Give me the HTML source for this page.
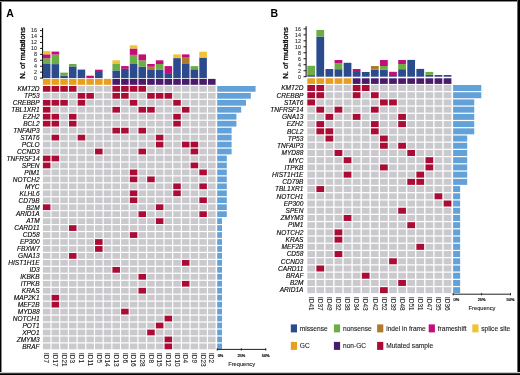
<!DOCTYPE html>
<html><head><meta charset="utf-8"><style>
html,body{margin:0;padding:0;background:#fff;}
body{width:520px;height:375px;overflow:hidden;position:relative;}
svg{position:absolute;left:0;top:0;font-family:"Liberation Sans",sans-serif;will-change:transform;}
.frame{position:absolute;left:0;top:0;width:517px;height:372px;border-style:solid;border-color:#000;border-width:2px 2px 2px 1px;}
</style></head><body>
<svg width="520" height="375" viewBox="0 0 520 375">
<text x="6.30" y="16.90" font-size="10.5" text-anchor="start" font-weight="bold" fill="#000">A</text>
<text x="25.00" y="78.80" font-size="7.7" text-anchor="start" transform="rotate(-90 25.00 78.80)" fill="#000" stroke="#000" stroke-width="0.3">N. of mutations</text>
<line x1="42.60" y1="27.98" x2="42.60" y2="78.50" stroke="#000" stroke-width="1"/>
<line x1="40.00" y1="78.10" x2="42.60" y2="78.10" stroke="#000" stroke-width="0.9"/>
<text x="37.00" y="80.00" font-size="5.3" text-anchor="end" fill="#222" stroke="#222" stroke-width="0.08">0</text>
<line x1="40.00" y1="72.16" x2="42.60" y2="72.16" stroke="#000" stroke-width="0.9"/>
<text x="37.00" y="74.06" font-size="5.3" text-anchor="end" fill="#222" stroke="#222" stroke-width="0.08">2</text>
<line x1="40.00" y1="66.22" x2="42.60" y2="66.22" stroke="#000" stroke-width="0.9"/>
<text x="37.00" y="68.12" font-size="5.3" text-anchor="end" fill="#222" stroke="#222" stroke-width="0.08">4</text>
<line x1="40.00" y1="60.28" x2="42.60" y2="60.28" stroke="#000" stroke-width="0.9"/>
<text x="37.00" y="62.18" font-size="5.3" text-anchor="end" fill="#222" stroke="#222" stroke-width="0.08">6</text>
<line x1="40.00" y1="54.34" x2="42.60" y2="54.34" stroke="#000" stroke-width="0.9"/>
<text x="37.00" y="56.24" font-size="5.3" text-anchor="end" fill="#222" stroke="#222" stroke-width="0.08">8</text>
<line x1="40.00" y1="48.40" x2="42.60" y2="48.40" stroke="#000" stroke-width="0.9"/>
<text x="37.00" y="50.30" font-size="5.3" text-anchor="end" fill="#222" stroke="#222" stroke-width="0.08">10</text>
<line x1="40.00" y1="42.46" x2="42.60" y2="42.46" stroke="#000" stroke-width="0.9"/>
<text x="37.00" y="44.36" font-size="5.3" text-anchor="end" fill="#222" stroke="#222" stroke-width="0.08">12</text>
<line x1="40.00" y1="36.52" x2="42.60" y2="36.52" stroke="#000" stroke-width="0.9"/>
<text x="37.00" y="38.42" font-size="5.3" text-anchor="end" fill="#222" stroke="#222" stroke-width="0.08">14</text>
<line x1="40.00" y1="30.58" x2="42.60" y2="30.58" stroke="#000" stroke-width="0.9"/>
<text x="37.00" y="32.48" font-size="5.3" text-anchor="end" fill="#222" stroke="#222" stroke-width="0.08">16</text>
<rect x="42.90" y="64.00" width="7.55" height="14.10" fill="#2b4b8d"/>
<rect x="42.90" y="58.30" width="7.55" height="5.70" fill="#6cad46"/>
<rect x="42.90" y="54.30" width="7.55" height="4.00" fill="#c20e78"/>
<rect x="42.90" y="51.10" width="7.55" height="3.20" fill="#f1c232"/>
<rect x="51.59" y="64.10" width="7.55" height="14.00" fill="#2b4b8d"/>
<rect x="51.59" y="54.50" width="7.55" height="9.60" fill="#6cad46"/>
<rect x="51.59" y="51.60" width="7.55" height="2.90" fill="#c20e78"/>
<rect x="60.28" y="75.60" width="7.55" height="2.50" fill="#2b4b8d"/>
<rect x="60.28" y="72.60" width="7.55" height="3.00" fill="#6cad46"/>
<rect x="68.97" y="66.40" width="7.55" height="11.70" fill="#2b4b8d"/>
<rect x="68.97" y="64.00" width="7.55" height="2.40" fill="#6cad46"/>
<rect x="77.66" y="69.60" width="7.55" height="8.50" fill="#2b4b8d"/>
<rect x="86.35" y="75.70" width="7.55" height="2.40" fill="#c20e78"/>
<rect x="95.04" y="72.00" width="7.55" height="6.10" fill="#2b4b8d"/>
<rect x="95.04" y="69.70" width="7.55" height="2.30" fill="#c20e78"/>
<rect x="112.42" y="70.40" width="7.55" height="7.70" fill="#2b4b8d"/>
<rect x="112.42" y="64.00" width="7.55" height="6.40" fill="#6cad46"/>
<rect x="112.42" y="60.30" width="7.55" height="3.70" fill="#f1c232"/>
<rect x="121.11" y="68.80" width="7.55" height="9.30" fill="#2b4b8d"/>
<rect x="121.11" y="66.10" width="7.55" height="2.70" fill="#c20e78"/>
<rect x="129.80" y="64.00" width="7.55" height="14.10" fill="#2b4b8d"/>
<rect x="129.80" y="54.90" width="7.55" height="9.10" fill="#6cad46"/>
<rect x="129.80" y="48.50" width="7.55" height="6.40" fill="#c20e78"/>
<rect x="129.80" y="45.30" width="7.55" height="3.20" fill="#f1c232"/>
<rect x="138.49" y="66.70" width="7.55" height="11.40" fill="#2b4b8d"/>
<rect x="138.49" y="60.30" width="7.55" height="6.40" fill="#6cad46"/>
<rect x="138.49" y="54.40" width="7.55" height="5.90" fill="#c20e78"/>
<rect x="147.18" y="69.30" width="7.55" height="8.80" fill="#2b4b8d"/>
<rect x="147.18" y="66.70" width="7.55" height="2.60" fill="#b07a2e"/>
<rect x="147.18" y="64.00" width="7.55" height="2.70" fill="#c20e78"/>
<rect x="155.87" y="69.90" width="7.55" height="8.20" fill="#2b4b8d"/>
<rect x="155.87" y="64.00" width="7.55" height="5.90" fill="#6cad46"/>
<rect x="155.87" y="60.30" width="7.55" height="3.70" fill="#c20e78"/>
<rect x="164.56" y="73.10" width="7.55" height="5.00" fill="#2b4b8d"/>
<rect x="164.56" y="66.10" width="7.55" height="7.00" fill="#c20e78"/>
<rect x="173.25" y="58.10" width="7.55" height="20.00" fill="#2b4b8d"/>
<rect x="173.25" y="54.40" width="7.55" height="3.70" fill="#f1c232"/>
<rect x="181.94" y="64.00" width="7.55" height="14.10" fill="#2b4b8d"/>
<rect x="181.94" y="57.60" width="7.55" height="6.40" fill="#b07a2e"/>
<rect x="181.94" y="54.40" width="7.55" height="3.20" fill="#c20e78"/>
<rect x="190.63" y="69.30" width="7.55" height="8.80" fill="#2b4b8d"/>
<rect x="190.63" y="66.10" width="7.55" height="3.20" fill="#6cad46"/>
<rect x="199.32" y="57.60" width="7.55" height="20.50" fill="#2b4b8d"/>
<rect x="199.32" y="51.70" width="7.55" height="5.90" fill="#f1c232"/>
<rect x="42.90" y="78.90" width="7.55" height="5.90" fill="#e89f1f"/>
<rect x="51.59" y="78.90" width="7.55" height="5.90" fill="#e89f1f"/>
<rect x="60.28" y="78.90" width="7.55" height="5.90" fill="#e89f1f"/>
<rect x="68.97" y="78.90" width="7.55" height="5.90" fill="#e89f1f"/>
<rect x="77.66" y="78.90" width="7.55" height="5.90" fill="#e89f1f"/>
<rect x="86.35" y="78.90" width="7.55" height="5.90" fill="#e89f1f"/>
<rect x="95.04" y="78.90" width="7.55" height="5.90" fill="#e89f1f"/>
<rect x="103.73" y="78.90" width="7.55" height="5.90" fill="#e89f1f"/>
<rect x="112.42" y="78.90" width="7.55" height="5.90" fill="#4a1b6b"/>
<rect x="121.11" y="78.90" width="7.55" height="5.90" fill="#4a1b6b"/>
<rect x="129.80" y="78.90" width="7.55" height="5.90" fill="#4a1b6b"/>
<rect x="138.49" y="78.90" width="7.55" height="5.90" fill="#4a1b6b"/>
<rect x="147.18" y="78.90" width="7.55" height="5.90" fill="#4a1b6b"/>
<rect x="155.87" y="78.90" width="7.55" height="5.90" fill="#4a1b6b"/>
<rect x="164.56" y="78.90" width="7.55" height="5.90" fill="#4a1b6b"/>
<rect x="173.25" y="78.90" width="7.55" height="5.90" fill="#4a1b6b"/>
<rect x="181.94" y="78.90" width="7.55" height="5.90" fill="#4a1b6b"/>
<rect x="190.63" y="78.90" width="7.55" height="5.90" fill="#4a1b6b"/>
<rect x="199.32" y="78.90" width="7.55" height="5.90" fill="#4a1b6b"/>
<rect x="208.01" y="78.90" width="7.55" height="5.90" fill="#4a1b6b"/>
<rect x="42.90" y="86.00" width="7.55" height="5.75" fill="#aa0c36"/>
<rect x="51.59" y="86.00" width="7.55" height="5.75" fill="#aa0c36"/>
<rect x="60.28" y="86.00" width="7.55" height="5.75" fill="#aa0c36"/>
<rect x="68.97" y="86.00" width="7.55" height="5.75" fill="#aa0c36"/>
<rect x="77.66" y="86.00" width="7.55" height="5.75" fill="#cacace"/>
<rect x="86.35" y="86.00" width="7.55" height="5.75" fill="#cacace"/>
<rect x="95.04" y="86.00" width="7.55" height="5.75" fill="#cacace"/>
<rect x="103.73" y="86.00" width="7.55" height="5.75" fill="#cacace"/>
<rect x="112.42" y="86.00" width="7.55" height="5.75" fill="#aa0c36"/>
<rect x="121.11" y="86.00" width="7.55" height="5.75" fill="#aa0c36"/>
<rect x="129.80" y="86.00" width="7.55" height="5.75" fill="#aa0c36"/>
<rect x="138.49" y="86.00" width="7.55" height="5.75" fill="#aa0c36"/>
<rect x="147.18" y="86.00" width="7.55" height="5.75" fill="#cacace"/>
<rect x="155.87" y="86.00" width="7.55" height="5.75" fill="#cacace"/>
<rect x="164.56" y="86.00" width="7.55" height="5.75" fill="#cacace"/>
<rect x="173.25" y="86.00" width="7.55" height="5.75" fill="#cacace"/>
<rect x="181.94" y="86.00" width="7.55" height="5.75" fill="#cacace"/>
<rect x="190.63" y="86.00" width="7.55" height="5.75" fill="#cacace"/>
<rect x="199.32" y="86.00" width="7.55" height="5.75" fill="#cacace"/>
<rect x="208.01" y="86.00" width="7.55" height="5.75" fill="#cacace"/>
<text x="39.60" y="91.17" font-size="6.55" text-anchor="end" font-style="italic" fill="#000" stroke="#000" stroke-width="0.12">KMT2D</text>
<rect x="217.20" y="86.00" width="38.40" height="5.75" fill="#63a1d9"/>
<rect x="42.90" y="92.96" width="7.55" height="5.75" fill="#cacace"/>
<rect x="51.59" y="92.96" width="7.55" height="5.75" fill="#cacace"/>
<rect x="60.28" y="92.96" width="7.55" height="5.75" fill="#cacace"/>
<rect x="68.97" y="92.96" width="7.55" height="5.75" fill="#cacace"/>
<rect x="77.66" y="92.96" width="7.55" height="5.75" fill="#aa0c36"/>
<rect x="86.35" y="92.96" width="7.55" height="5.75" fill="#aa0c36"/>
<rect x="95.04" y="92.96" width="7.55" height="5.75" fill="#cacace"/>
<rect x="103.73" y="92.96" width="7.55" height="5.75" fill="#cacace"/>
<rect x="112.42" y="92.96" width="7.55" height="5.75" fill="#aa0c36"/>
<rect x="121.11" y="92.96" width="7.55" height="5.75" fill="#aa0c36"/>
<rect x="129.80" y="92.96" width="7.55" height="5.75" fill="#cacace"/>
<rect x="138.49" y="92.96" width="7.55" height="5.75" fill="#cacace"/>
<rect x="147.18" y="92.96" width="7.55" height="5.75" fill="#aa0c36"/>
<rect x="155.87" y="92.96" width="7.55" height="5.75" fill="#aa0c36"/>
<rect x="164.56" y="92.96" width="7.55" height="5.75" fill="#aa0c36"/>
<rect x="173.25" y="92.96" width="7.55" height="5.75" fill="#cacace"/>
<rect x="181.94" y="92.96" width="7.55" height="5.75" fill="#cacace"/>
<rect x="190.63" y="92.96" width="7.55" height="5.75" fill="#cacace"/>
<rect x="199.32" y="92.96" width="7.55" height="5.75" fill="#cacace"/>
<rect x="208.01" y="92.96" width="7.55" height="5.75" fill="#cacace"/>
<text x="39.60" y="98.13" font-size="6.55" text-anchor="end" font-style="italic" fill="#000" stroke="#000" stroke-width="0.12">TP53</text>
<rect x="217.20" y="92.96" width="33.60" height="5.75" fill="#63a1d9"/>
<rect x="42.90" y="99.92" width="7.55" height="5.75" fill="#aa0c36"/>
<rect x="51.59" y="99.92" width="7.55" height="5.75" fill="#aa0c36"/>
<rect x="60.28" y="99.92" width="7.55" height="5.75" fill="#aa0c36"/>
<rect x="68.97" y="99.92" width="7.55" height="5.75" fill="#cacace"/>
<rect x="77.66" y="99.92" width="7.55" height="5.75" fill="#aa0c36"/>
<rect x="86.35" y="99.92" width="7.55" height="5.75" fill="#cacace"/>
<rect x="95.04" y="99.92" width="7.55" height="5.75" fill="#cacace"/>
<rect x="103.73" y="99.92" width="7.55" height="5.75" fill="#cacace"/>
<rect x="112.42" y="99.92" width="7.55" height="5.75" fill="#cacace"/>
<rect x="121.11" y="99.92" width="7.55" height="5.75" fill="#cacace"/>
<rect x="129.80" y="99.92" width="7.55" height="5.75" fill="#aa0c36"/>
<rect x="138.49" y="99.92" width="7.55" height="5.75" fill="#cacace"/>
<rect x="147.18" y="99.92" width="7.55" height="5.75" fill="#cacace"/>
<rect x="155.87" y="99.92" width="7.55" height="5.75" fill="#cacace"/>
<rect x="164.56" y="99.92" width="7.55" height="5.75" fill="#cacace"/>
<rect x="173.25" y="99.92" width="7.55" height="5.75" fill="#aa0c36"/>
<rect x="181.94" y="99.92" width="7.55" height="5.75" fill="#cacace"/>
<rect x="190.63" y="99.92" width="7.55" height="5.75" fill="#cacace"/>
<rect x="199.32" y="99.92" width="7.55" height="5.75" fill="#cacace"/>
<rect x="208.01" y="99.92" width="7.55" height="5.75" fill="#cacace"/>
<text x="39.60" y="105.09" font-size="6.55" text-anchor="end" font-style="italic" fill="#000" stroke="#000" stroke-width="0.12">CREBBP</text>
<rect x="217.20" y="99.92" width="28.80" height="5.75" fill="#63a1d9"/>
<rect x="42.90" y="106.88" width="7.55" height="5.75" fill="#aa0c36"/>
<rect x="51.59" y="106.88" width="7.55" height="5.75" fill="#cacace"/>
<rect x="60.28" y="106.88" width="7.55" height="5.75" fill="#cacace"/>
<rect x="68.97" y="106.88" width="7.55" height="5.75" fill="#cacace"/>
<rect x="77.66" y="106.88" width="7.55" height="5.75" fill="#cacace"/>
<rect x="86.35" y="106.88" width="7.55" height="5.75" fill="#cacace"/>
<rect x="95.04" y="106.88" width="7.55" height="5.75" fill="#cacace"/>
<rect x="103.73" y="106.88" width="7.55" height="5.75" fill="#cacace"/>
<rect x="112.42" y="106.88" width="7.55" height="5.75" fill="#aa0c36"/>
<rect x="121.11" y="106.88" width="7.55" height="5.75" fill="#cacace"/>
<rect x="129.80" y="106.88" width="7.55" height="5.75" fill="#cacace"/>
<rect x="138.49" y="106.88" width="7.55" height="5.75" fill="#aa0c36"/>
<rect x="147.18" y="106.88" width="7.55" height="5.75" fill="#aa0c36"/>
<rect x="155.87" y="106.88" width="7.55" height="5.75" fill="#cacace"/>
<rect x="164.56" y="106.88" width="7.55" height="5.75" fill="#cacace"/>
<rect x="173.25" y="106.88" width="7.55" height="5.75" fill="#cacace"/>
<rect x="181.94" y="106.88" width="7.55" height="5.75" fill="#aa0c36"/>
<rect x="190.63" y="106.88" width="7.55" height="5.75" fill="#cacace"/>
<rect x="199.32" y="106.88" width="7.55" height="5.75" fill="#cacace"/>
<rect x="208.01" y="106.88" width="7.55" height="5.75" fill="#cacace"/>
<text x="39.60" y="112.05" font-size="6.55" text-anchor="end" font-style="italic" fill="#000" stroke="#000" stroke-width="0.12">TBL1XR1</text>
<rect x="217.20" y="106.88" width="24.00" height="5.75" fill="#63a1d9"/>
<rect x="42.90" y="113.84" width="7.55" height="5.75" fill="#aa0c36"/>
<rect x="51.59" y="113.84" width="7.55" height="5.75" fill="#aa0c36"/>
<rect x="60.28" y="113.84" width="7.55" height="5.75" fill="#cacace"/>
<rect x="68.97" y="113.84" width="7.55" height="5.75" fill="#aa0c36"/>
<rect x="77.66" y="113.84" width="7.55" height="5.75" fill="#cacace"/>
<rect x="86.35" y="113.84" width="7.55" height="5.75" fill="#cacace"/>
<rect x="95.04" y="113.84" width="7.55" height="5.75" fill="#cacace"/>
<rect x="103.73" y="113.84" width="7.55" height="5.75" fill="#cacace"/>
<rect x="112.42" y="113.84" width="7.55" height="5.75" fill="#cacace"/>
<rect x="121.11" y="113.84" width="7.55" height="5.75" fill="#cacace"/>
<rect x="129.80" y="113.84" width="7.55" height="5.75" fill="#cacace"/>
<rect x="138.49" y="113.84" width="7.55" height="5.75" fill="#cacace"/>
<rect x="147.18" y="113.84" width="7.55" height="5.75" fill="#cacace"/>
<rect x="155.87" y="113.84" width="7.55" height="5.75" fill="#cacace"/>
<rect x="164.56" y="113.84" width="7.55" height="5.75" fill="#cacace"/>
<rect x="173.25" y="113.84" width="7.55" height="5.75" fill="#aa0c36"/>
<rect x="181.94" y="113.84" width="7.55" height="5.75" fill="#cacace"/>
<rect x="190.63" y="113.84" width="7.55" height="5.75" fill="#cacace"/>
<rect x="199.32" y="113.84" width="7.55" height="5.75" fill="#cacace"/>
<rect x="208.01" y="113.84" width="7.55" height="5.75" fill="#cacace"/>
<text x="39.60" y="119.02" font-size="6.55" text-anchor="end" font-style="italic" fill="#000" stroke="#000" stroke-width="0.12">EZH2</text>
<rect x="217.20" y="113.84" width="19.20" height="5.75" fill="#63a1d9"/>
<rect x="42.90" y="120.80" width="7.55" height="5.75" fill="#aa0c36"/>
<rect x="51.59" y="120.80" width="7.55" height="5.75" fill="#aa0c36"/>
<rect x="60.28" y="120.80" width="7.55" height="5.75" fill="#cacace"/>
<rect x="68.97" y="120.80" width="7.55" height="5.75" fill="#aa0c36"/>
<rect x="77.66" y="120.80" width="7.55" height="5.75" fill="#cacace"/>
<rect x="86.35" y="120.80" width="7.55" height="5.75" fill="#cacace"/>
<rect x="95.04" y="120.80" width="7.55" height="5.75" fill="#cacace"/>
<rect x="103.73" y="120.80" width="7.55" height="5.75" fill="#cacace"/>
<rect x="112.42" y="120.80" width="7.55" height="5.75" fill="#cacace"/>
<rect x="121.11" y="120.80" width="7.55" height="5.75" fill="#cacace"/>
<rect x="129.80" y="120.80" width="7.55" height="5.75" fill="#cacace"/>
<rect x="138.49" y="120.80" width="7.55" height="5.75" fill="#cacace"/>
<rect x="147.18" y="120.80" width="7.55" height="5.75" fill="#cacace"/>
<rect x="155.87" y="120.80" width="7.55" height="5.75" fill="#cacace"/>
<rect x="164.56" y="120.80" width="7.55" height="5.75" fill="#cacace"/>
<rect x="173.25" y="120.80" width="7.55" height="5.75" fill="#aa0c36"/>
<rect x="181.94" y="120.80" width="7.55" height="5.75" fill="#cacace"/>
<rect x="190.63" y="120.80" width="7.55" height="5.75" fill="#cacace"/>
<rect x="199.32" y="120.80" width="7.55" height="5.75" fill="#cacace"/>
<rect x="208.01" y="120.80" width="7.55" height="5.75" fill="#cacace"/>
<text x="39.60" y="125.97" font-size="6.55" text-anchor="end" font-style="italic" fill="#000" stroke="#000" stroke-width="0.12">BCL2</text>
<rect x="217.20" y="120.80" width="19.20" height="5.75" fill="#63a1d9"/>
<rect x="42.90" y="127.76" width="7.55" height="5.75" fill="#cacace"/>
<rect x="51.59" y="127.76" width="7.55" height="5.75" fill="#cacace"/>
<rect x="60.28" y="127.76" width="7.55" height="5.75" fill="#cacace"/>
<rect x="68.97" y="127.76" width="7.55" height="5.75" fill="#cacace"/>
<rect x="77.66" y="127.76" width="7.55" height="5.75" fill="#cacace"/>
<rect x="86.35" y="127.76" width="7.55" height="5.75" fill="#cacace"/>
<rect x="95.04" y="127.76" width="7.55" height="5.75" fill="#cacace"/>
<rect x="103.73" y="127.76" width="7.55" height="5.75" fill="#cacace"/>
<rect x="112.42" y="127.76" width="7.55" height="5.75" fill="#aa0c36"/>
<rect x="121.11" y="127.76" width="7.55" height="5.75" fill="#aa0c36"/>
<rect x="129.80" y="127.76" width="7.55" height="5.75" fill="#cacace"/>
<rect x="138.49" y="127.76" width="7.55" height="5.75" fill="#aa0c36"/>
<rect x="147.18" y="127.76" width="7.55" height="5.75" fill="#cacace"/>
<rect x="155.87" y="127.76" width="7.55" height="5.75" fill="#cacace"/>
<rect x="164.56" y="127.76" width="7.55" height="5.75" fill="#cacace"/>
<rect x="173.25" y="127.76" width="7.55" height="5.75" fill="#cacace"/>
<rect x="181.94" y="127.76" width="7.55" height="5.75" fill="#cacace"/>
<rect x="190.63" y="127.76" width="7.55" height="5.75" fill="#cacace"/>
<rect x="199.32" y="127.76" width="7.55" height="5.75" fill="#cacace"/>
<rect x="208.01" y="127.76" width="7.55" height="5.75" fill="#cacace"/>
<text x="39.60" y="132.94" font-size="6.55" text-anchor="end" font-style="italic" fill="#000" stroke="#000" stroke-width="0.12">TNFAIP3</text>
<rect x="217.20" y="127.76" width="14.40" height="5.75" fill="#63a1d9"/>
<rect x="42.90" y="134.72" width="7.55" height="5.75" fill="#cacace"/>
<rect x="51.59" y="134.72" width="7.55" height="5.75" fill="#aa0c36"/>
<rect x="60.28" y="134.72" width="7.55" height="5.75" fill="#cacace"/>
<rect x="68.97" y="134.72" width="7.55" height="5.75" fill="#cacace"/>
<rect x="77.66" y="134.72" width="7.55" height="5.75" fill="#aa0c36"/>
<rect x="86.35" y="134.72" width="7.55" height="5.75" fill="#cacace"/>
<rect x="95.04" y="134.72" width="7.55" height="5.75" fill="#cacace"/>
<rect x="103.73" y="134.72" width="7.55" height="5.75" fill="#cacace"/>
<rect x="112.42" y="134.72" width="7.55" height="5.75" fill="#cacace"/>
<rect x="121.11" y="134.72" width="7.55" height="5.75" fill="#cacace"/>
<rect x="129.80" y="134.72" width="7.55" height="5.75" fill="#cacace"/>
<rect x="138.49" y="134.72" width="7.55" height="5.75" fill="#cacace"/>
<rect x="147.18" y="134.72" width="7.55" height="5.75" fill="#cacace"/>
<rect x="155.87" y="134.72" width="7.55" height="5.75" fill="#aa0c36"/>
<rect x="164.56" y="134.72" width="7.55" height="5.75" fill="#cacace"/>
<rect x="173.25" y="134.72" width="7.55" height="5.75" fill="#cacace"/>
<rect x="181.94" y="134.72" width="7.55" height="5.75" fill="#cacace"/>
<rect x="190.63" y="134.72" width="7.55" height="5.75" fill="#cacace"/>
<rect x="199.32" y="134.72" width="7.55" height="5.75" fill="#cacace"/>
<rect x="208.01" y="134.72" width="7.55" height="5.75" fill="#cacace"/>
<text x="39.60" y="139.90" font-size="6.55" text-anchor="end" font-style="italic" fill="#000" stroke="#000" stroke-width="0.12">STAT6</text>
<rect x="217.20" y="134.72" width="14.40" height="5.75" fill="#63a1d9"/>
<rect x="42.90" y="141.68" width="7.55" height="5.75" fill="#cacace"/>
<rect x="51.59" y="141.68" width="7.55" height="5.75" fill="#cacace"/>
<rect x="60.28" y="141.68" width="7.55" height="5.75" fill="#cacace"/>
<rect x="68.97" y="141.68" width="7.55" height="5.75" fill="#cacace"/>
<rect x="77.66" y="141.68" width="7.55" height="5.75" fill="#cacace"/>
<rect x="86.35" y="141.68" width="7.55" height="5.75" fill="#cacace"/>
<rect x="95.04" y="141.68" width="7.55" height="5.75" fill="#cacace"/>
<rect x="103.73" y="141.68" width="7.55" height="5.75" fill="#cacace"/>
<rect x="112.42" y="141.68" width="7.55" height="5.75" fill="#cacace"/>
<rect x="121.11" y="141.68" width="7.55" height="5.75" fill="#cacace"/>
<rect x="129.80" y="141.68" width="7.55" height="5.75" fill="#cacace"/>
<rect x="138.49" y="141.68" width="7.55" height="5.75" fill="#cacace"/>
<rect x="147.18" y="141.68" width="7.55" height="5.75" fill="#cacace"/>
<rect x="155.87" y="141.68" width="7.55" height="5.75" fill="#aa0c36"/>
<rect x="164.56" y="141.68" width="7.55" height="5.75" fill="#cacace"/>
<rect x="173.25" y="141.68" width="7.55" height="5.75" fill="#cacace"/>
<rect x="181.94" y="141.68" width="7.55" height="5.75" fill="#aa0c36"/>
<rect x="190.63" y="141.68" width="7.55" height="5.75" fill="#aa0c36"/>
<rect x="199.32" y="141.68" width="7.55" height="5.75" fill="#cacace"/>
<rect x="208.01" y="141.68" width="7.55" height="5.75" fill="#cacace"/>
<text x="39.60" y="146.86" font-size="6.55" text-anchor="end" font-style="italic" fill="#000" stroke="#000" stroke-width="0.12">PCLO</text>
<rect x="217.20" y="141.68" width="14.40" height="5.75" fill="#63a1d9"/>
<rect x="42.90" y="148.64" width="7.55" height="5.75" fill="#cacace"/>
<rect x="51.59" y="148.64" width="7.55" height="5.75" fill="#cacace"/>
<rect x="60.28" y="148.64" width="7.55" height="5.75" fill="#cacace"/>
<rect x="68.97" y="148.64" width="7.55" height="5.75" fill="#cacace"/>
<rect x="77.66" y="148.64" width="7.55" height="5.75" fill="#cacace"/>
<rect x="86.35" y="148.64" width="7.55" height="5.75" fill="#cacace"/>
<rect x="95.04" y="148.64" width="7.55" height="5.75" fill="#aa0c36"/>
<rect x="103.73" y="148.64" width="7.55" height="5.75" fill="#cacace"/>
<rect x="112.42" y="148.64" width="7.55" height="5.75" fill="#cacace"/>
<rect x="121.11" y="148.64" width="7.55" height="5.75" fill="#cacace"/>
<rect x="129.80" y="148.64" width="7.55" height="5.75" fill="#cacace"/>
<rect x="138.49" y="148.64" width="7.55" height="5.75" fill="#aa0c36"/>
<rect x="147.18" y="148.64" width="7.55" height="5.75" fill="#cacace"/>
<rect x="155.87" y="148.64" width="7.55" height="5.75" fill="#cacace"/>
<rect x="164.56" y="148.64" width="7.55" height="5.75" fill="#cacace"/>
<rect x="173.25" y="148.64" width="7.55" height="5.75" fill="#cacace"/>
<rect x="181.94" y="148.64" width="7.55" height="5.75" fill="#cacace"/>
<rect x="190.63" y="148.64" width="7.55" height="5.75" fill="#aa0c36"/>
<rect x="199.32" y="148.64" width="7.55" height="5.75" fill="#cacace"/>
<rect x="208.01" y="148.64" width="7.55" height="5.75" fill="#cacace"/>
<text x="39.60" y="153.81" font-size="6.55" text-anchor="end" font-style="italic" fill="#000" stroke="#000" stroke-width="0.12">CCND3</text>
<rect x="217.20" y="148.64" width="14.40" height="5.75" fill="#63a1d9"/>
<rect x="42.90" y="155.60" width="7.55" height="5.75" fill="#aa0c36"/>
<rect x="51.59" y="155.60" width="7.55" height="5.75" fill="#aa0c36"/>
<rect x="60.28" y="155.60" width="7.55" height="5.75" fill="#cacace"/>
<rect x="68.97" y="155.60" width="7.55" height="5.75" fill="#cacace"/>
<rect x="77.66" y="155.60" width="7.55" height="5.75" fill="#cacace"/>
<rect x="86.35" y="155.60" width="7.55" height="5.75" fill="#cacace"/>
<rect x="95.04" y="155.60" width="7.55" height="5.75" fill="#cacace"/>
<rect x="103.73" y="155.60" width="7.55" height="5.75" fill="#cacace"/>
<rect x="112.42" y="155.60" width="7.55" height="5.75" fill="#cacace"/>
<rect x="121.11" y="155.60" width="7.55" height="5.75" fill="#cacace"/>
<rect x="129.80" y="155.60" width="7.55" height="5.75" fill="#cacace"/>
<rect x="138.49" y="155.60" width="7.55" height="5.75" fill="#cacace"/>
<rect x="147.18" y="155.60" width="7.55" height="5.75" fill="#cacace"/>
<rect x="155.87" y="155.60" width="7.55" height="5.75" fill="#cacace"/>
<rect x="164.56" y="155.60" width="7.55" height="5.75" fill="#cacace"/>
<rect x="173.25" y="155.60" width="7.55" height="5.75" fill="#cacace"/>
<rect x="181.94" y="155.60" width="7.55" height="5.75" fill="#cacace"/>
<rect x="190.63" y="155.60" width="7.55" height="5.75" fill="#cacace"/>
<rect x="199.32" y="155.60" width="7.55" height="5.75" fill="#cacace"/>
<rect x="208.01" y="155.60" width="7.55" height="5.75" fill="#cacace"/>
<text x="39.60" y="160.78" font-size="6.55" text-anchor="end" font-style="italic" fill="#000" stroke="#000" stroke-width="0.12">TNFRSF14</text>
<rect x="217.20" y="155.60" width="9.60" height="5.75" fill="#63a1d9"/>
<rect x="42.90" y="162.56" width="7.55" height="5.75" fill="#aa0c36"/>
<rect x="51.59" y="162.56" width="7.55" height="5.75" fill="#cacace"/>
<rect x="60.28" y="162.56" width="7.55" height="5.75" fill="#cacace"/>
<rect x="68.97" y="162.56" width="7.55" height="5.75" fill="#cacace"/>
<rect x="77.66" y="162.56" width="7.55" height="5.75" fill="#cacace"/>
<rect x="86.35" y="162.56" width="7.55" height="5.75" fill="#cacace"/>
<rect x="95.04" y="162.56" width="7.55" height="5.75" fill="#cacace"/>
<rect x="103.73" y="162.56" width="7.55" height="5.75" fill="#cacace"/>
<rect x="112.42" y="162.56" width="7.55" height="5.75" fill="#cacace"/>
<rect x="121.11" y="162.56" width="7.55" height="5.75" fill="#cacace"/>
<rect x="129.80" y="162.56" width="7.55" height="5.75" fill="#cacace"/>
<rect x="138.49" y="162.56" width="7.55" height="5.75" fill="#cacace"/>
<rect x="147.18" y="162.56" width="7.55" height="5.75" fill="#cacace"/>
<rect x="155.87" y="162.56" width="7.55" height="5.75" fill="#cacace"/>
<rect x="164.56" y="162.56" width="7.55" height="5.75" fill="#cacace"/>
<rect x="173.25" y="162.56" width="7.55" height="5.75" fill="#cacace"/>
<rect x="181.94" y="162.56" width="7.55" height="5.75" fill="#cacace"/>
<rect x="190.63" y="162.56" width="7.55" height="5.75" fill="#aa0c36"/>
<rect x="199.32" y="162.56" width="7.55" height="5.75" fill="#cacace"/>
<rect x="208.01" y="162.56" width="7.55" height="5.75" fill="#cacace"/>
<text x="39.60" y="167.74" font-size="6.55" text-anchor="end" font-style="italic" fill="#000" stroke="#000" stroke-width="0.12">SPEN</text>
<rect x="217.20" y="162.56" width="9.60" height="5.75" fill="#63a1d9"/>
<rect x="42.90" y="169.52" width="7.55" height="5.75" fill="#cacace"/>
<rect x="51.59" y="169.52" width="7.55" height="5.75" fill="#cacace"/>
<rect x="60.28" y="169.52" width="7.55" height="5.75" fill="#cacace"/>
<rect x="68.97" y="169.52" width="7.55" height="5.75" fill="#cacace"/>
<rect x="77.66" y="169.52" width="7.55" height="5.75" fill="#cacace"/>
<rect x="86.35" y="169.52" width="7.55" height="5.75" fill="#cacace"/>
<rect x="95.04" y="169.52" width="7.55" height="5.75" fill="#cacace"/>
<rect x="103.73" y="169.52" width="7.55" height="5.75" fill="#cacace"/>
<rect x="112.42" y="169.52" width="7.55" height="5.75" fill="#cacace"/>
<rect x="121.11" y="169.52" width="7.55" height="5.75" fill="#cacace"/>
<rect x="129.80" y="169.52" width="7.55" height="5.75" fill="#aa0c36"/>
<rect x="138.49" y="169.52" width="7.55" height="5.75" fill="#cacace"/>
<rect x="147.18" y="169.52" width="7.55" height="5.75" fill="#cacace"/>
<rect x="155.87" y="169.52" width="7.55" height="5.75" fill="#cacace"/>
<rect x="164.56" y="169.52" width="7.55" height="5.75" fill="#cacace"/>
<rect x="173.25" y="169.52" width="7.55" height="5.75" fill="#cacace"/>
<rect x="181.94" y="169.52" width="7.55" height="5.75" fill="#cacace"/>
<rect x="190.63" y="169.52" width="7.55" height="5.75" fill="#cacace"/>
<rect x="199.32" y="169.52" width="7.55" height="5.75" fill="#aa0c36"/>
<rect x="208.01" y="169.52" width="7.55" height="5.75" fill="#cacace"/>
<text x="39.60" y="174.69" font-size="6.55" text-anchor="end" font-style="italic" fill="#000" stroke="#000" stroke-width="0.12">PIM1</text>
<rect x="217.20" y="169.52" width="9.60" height="5.75" fill="#63a1d9"/>
<rect x="42.90" y="176.48" width="7.55" height="5.75" fill="#cacace"/>
<rect x="51.59" y="176.48" width="7.55" height="5.75" fill="#cacace"/>
<rect x="60.28" y="176.48" width="7.55" height="5.75" fill="#cacace"/>
<rect x="68.97" y="176.48" width="7.55" height="5.75" fill="#cacace"/>
<rect x="77.66" y="176.48" width="7.55" height="5.75" fill="#cacace"/>
<rect x="86.35" y="176.48" width="7.55" height="5.75" fill="#cacace"/>
<rect x="95.04" y="176.48" width="7.55" height="5.75" fill="#cacace"/>
<rect x="103.73" y="176.48" width="7.55" height="5.75" fill="#cacace"/>
<rect x="112.42" y="176.48" width="7.55" height="5.75" fill="#cacace"/>
<rect x="121.11" y="176.48" width="7.55" height="5.75" fill="#cacace"/>
<rect x="129.80" y="176.48" width="7.55" height="5.75" fill="#aa0c36"/>
<rect x="138.49" y="176.48" width="7.55" height="5.75" fill="#cacace"/>
<rect x="147.18" y="176.48" width="7.55" height="5.75" fill="#aa0c36"/>
<rect x="155.87" y="176.48" width="7.55" height="5.75" fill="#cacace"/>
<rect x="164.56" y="176.48" width="7.55" height="5.75" fill="#cacace"/>
<rect x="173.25" y="176.48" width="7.55" height="5.75" fill="#cacace"/>
<rect x="181.94" y="176.48" width="7.55" height="5.75" fill="#cacace"/>
<rect x="190.63" y="176.48" width="7.55" height="5.75" fill="#cacace"/>
<rect x="199.32" y="176.48" width="7.55" height="5.75" fill="#cacace"/>
<rect x="208.01" y="176.48" width="7.55" height="5.75" fill="#cacace"/>
<text x="39.60" y="181.66" font-size="6.55" text-anchor="end" font-style="italic" fill="#000" stroke="#000" stroke-width="0.12">NOTCH2</text>
<rect x="217.20" y="176.48" width="9.60" height="5.75" fill="#63a1d9"/>
<rect x="42.90" y="183.44" width="7.55" height="5.75" fill="#cacace"/>
<rect x="51.59" y="183.44" width="7.55" height="5.75" fill="#cacace"/>
<rect x="60.28" y="183.44" width="7.55" height="5.75" fill="#cacace"/>
<rect x="68.97" y="183.44" width="7.55" height="5.75" fill="#cacace"/>
<rect x="77.66" y="183.44" width="7.55" height="5.75" fill="#cacace"/>
<rect x="86.35" y="183.44" width="7.55" height="5.75" fill="#cacace"/>
<rect x="95.04" y="183.44" width="7.55" height="5.75" fill="#cacace"/>
<rect x="103.73" y="183.44" width="7.55" height="5.75" fill="#cacace"/>
<rect x="112.42" y="183.44" width="7.55" height="5.75" fill="#cacace"/>
<rect x="121.11" y="183.44" width="7.55" height="5.75" fill="#cacace"/>
<rect x="129.80" y="183.44" width="7.55" height="5.75" fill="#cacace"/>
<rect x="138.49" y="183.44" width="7.55" height="5.75" fill="#cacace"/>
<rect x="147.18" y="183.44" width="7.55" height="5.75" fill="#cacace"/>
<rect x="155.87" y="183.44" width="7.55" height="5.75" fill="#cacace"/>
<rect x="164.56" y="183.44" width="7.55" height="5.75" fill="#cacace"/>
<rect x="173.25" y="183.44" width="7.55" height="5.75" fill="#aa0c36"/>
<rect x="181.94" y="183.44" width="7.55" height="5.75" fill="#cacace"/>
<rect x="190.63" y="183.44" width="7.55" height="5.75" fill="#cacace"/>
<rect x="199.32" y="183.44" width="7.55" height="5.75" fill="#aa0c36"/>
<rect x="208.01" y="183.44" width="7.55" height="5.75" fill="#cacace"/>
<text x="39.60" y="188.62" font-size="6.55" text-anchor="end" font-style="italic" fill="#000" stroke="#000" stroke-width="0.12">MYC</text>
<rect x="217.20" y="183.44" width="9.60" height="5.75" fill="#63a1d9"/>
<rect x="42.90" y="190.40" width="7.55" height="5.75" fill="#cacace"/>
<rect x="51.59" y="190.40" width="7.55" height="5.75" fill="#cacace"/>
<rect x="60.28" y="190.40" width="7.55" height="5.75" fill="#cacace"/>
<rect x="68.97" y="190.40" width="7.55" height="5.75" fill="#cacace"/>
<rect x="77.66" y="190.40" width="7.55" height="5.75" fill="#cacace"/>
<rect x="86.35" y="190.40" width="7.55" height="5.75" fill="#cacace"/>
<rect x="95.04" y="190.40" width="7.55" height="5.75" fill="#cacace"/>
<rect x="103.73" y="190.40" width="7.55" height="5.75" fill="#cacace"/>
<rect x="112.42" y="190.40" width="7.55" height="5.75" fill="#cacace"/>
<rect x="121.11" y="190.40" width="7.55" height="5.75" fill="#cacace"/>
<rect x="129.80" y="190.40" width="7.55" height="5.75" fill="#aa0c36"/>
<rect x="138.49" y="190.40" width="7.55" height="5.75" fill="#cacace"/>
<rect x="147.18" y="190.40" width="7.55" height="5.75" fill="#cacace"/>
<rect x="155.87" y="190.40" width="7.55" height="5.75" fill="#cacace"/>
<rect x="164.56" y="190.40" width="7.55" height="5.75" fill="#cacace"/>
<rect x="173.25" y="190.40" width="7.55" height="5.75" fill="#aa0c36"/>
<rect x="181.94" y="190.40" width="7.55" height="5.75" fill="#cacace"/>
<rect x="190.63" y="190.40" width="7.55" height="5.75" fill="#cacace"/>
<rect x="199.32" y="190.40" width="7.55" height="5.75" fill="#cacace"/>
<rect x="208.01" y="190.40" width="7.55" height="5.75" fill="#cacace"/>
<text x="39.60" y="195.58" font-size="6.55" text-anchor="end" font-style="italic" fill="#000" stroke="#000" stroke-width="0.12">KLHL6</text>
<rect x="217.20" y="190.40" width="9.60" height="5.75" fill="#63a1d9"/>
<rect x="42.90" y="197.36" width="7.55" height="5.75" fill="#cacace"/>
<rect x="51.59" y="197.36" width="7.55" height="5.75" fill="#cacace"/>
<rect x="60.28" y="197.36" width="7.55" height="5.75" fill="#cacace"/>
<rect x="68.97" y="197.36" width="7.55" height="5.75" fill="#cacace"/>
<rect x="77.66" y="197.36" width="7.55" height="5.75" fill="#cacace"/>
<rect x="86.35" y="197.36" width="7.55" height="5.75" fill="#cacace"/>
<rect x="95.04" y="197.36" width="7.55" height="5.75" fill="#cacace"/>
<rect x="103.73" y="197.36" width="7.55" height="5.75" fill="#cacace"/>
<rect x="112.42" y="197.36" width="7.55" height="5.75" fill="#cacace"/>
<rect x="121.11" y="197.36" width="7.55" height="5.75" fill="#cacace"/>
<rect x="129.80" y="197.36" width="7.55" height="5.75" fill="#aa0c36"/>
<rect x="138.49" y="197.36" width="7.55" height="5.75" fill="#cacace"/>
<rect x="147.18" y="197.36" width="7.55" height="5.75" fill="#cacace"/>
<rect x="155.87" y="197.36" width="7.55" height="5.75" fill="#cacace"/>
<rect x="164.56" y="197.36" width="7.55" height="5.75" fill="#cacace"/>
<rect x="173.25" y="197.36" width="7.55" height="5.75" fill="#cacace"/>
<rect x="181.94" y="197.36" width="7.55" height="5.75" fill="#cacace"/>
<rect x="190.63" y="197.36" width="7.55" height="5.75" fill="#cacace"/>
<rect x="199.32" y="197.36" width="7.55" height="5.75" fill="#aa0c36"/>
<rect x="208.01" y="197.36" width="7.55" height="5.75" fill="#cacace"/>
<text x="39.60" y="202.54" font-size="6.55" text-anchor="end" font-style="italic" fill="#000" stroke="#000" stroke-width="0.12">CD79B</text>
<rect x="217.20" y="197.36" width="9.60" height="5.75" fill="#63a1d9"/>
<rect x="42.90" y="204.32" width="7.55" height="5.75" fill="#aa0c36"/>
<rect x="51.59" y="204.32" width="7.55" height="5.75" fill="#cacace"/>
<rect x="60.28" y="204.32" width="7.55" height="5.75" fill="#cacace"/>
<rect x="68.97" y="204.32" width="7.55" height="5.75" fill="#cacace"/>
<rect x="77.66" y="204.32" width="7.55" height="5.75" fill="#cacace"/>
<rect x="86.35" y="204.32" width="7.55" height="5.75" fill="#cacace"/>
<rect x="95.04" y="204.32" width="7.55" height="5.75" fill="#cacace"/>
<rect x="103.73" y="204.32" width="7.55" height="5.75" fill="#cacace"/>
<rect x="112.42" y="204.32" width="7.55" height="5.75" fill="#cacace"/>
<rect x="121.11" y="204.32" width="7.55" height="5.75" fill="#cacace"/>
<rect x="129.80" y="204.32" width="7.55" height="5.75" fill="#cacace"/>
<rect x="138.49" y="204.32" width="7.55" height="5.75" fill="#cacace"/>
<rect x="147.18" y="204.32" width="7.55" height="5.75" fill="#cacace"/>
<rect x="155.87" y="204.32" width="7.55" height="5.75" fill="#aa0c36"/>
<rect x="164.56" y="204.32" width="7.55" height="5.75" fill="#cacace"/>
<rect x="173.25" y="204.32" width="7.55" height="5.75" fill="#cacace"/>
<rect x="181.94" y="204.32" width="7.55" height="5.75" fill="#cacace"/>
<rect x="190.63" y="204.32" width="7.55" height="5.75" fill="#cacace"/>
<rect x="199.32" y="204.32" width="7.55" height="5.75" fill="#cacace"/>
<rect x="208.01" y="204.32" width="7.55" height="5.75" fill="#cacace"/>
<text x="39.60" y="209.50" font-size="6.55" text-anchor="end" font-style="italic" fill="#000" stroke="#000" stroke-width="0.12">B2M</text>
<rect x="217.20" y="204.32" width="9.60" height="5.75" fill="#63a1d9"/>
<rect x="42.90" y="211.28" width="7.55" height="5.75" fill="#cacace"/>
<rect x="51.59" y="211.28" width="7.55" height="5.75" fill="#cacace"/>
<rect x="60.28" y="211.28" width="7.55" height="5.75" fill="#cacace"/>
<rect x="68.97" y="211.28" width="7.55" height="5.75" fill="#cacace"/>
<rect x="77.66" y="211.28" width="7.55" height="5.75" fill="#cacace"/>
<rect x="86.35" y="211.28" width="7.55" height="5.75" fill="#cacace"/>
<rect x="95.04" y="211.28" width="7.55" height="5.75" fill="#cacace"/>
<rect x="103.73" y="211.28" width="7.55" height="5.75" fill="#cacace"/>
<rect x="112.42" y="211.28" width="7.55" height="5.75" fill="#cacace"/>
<rect x="121.11" y="211.28" width="7.55" height="5.75" fill="#cacace"/>
<rect x="129.80" y="211.28" width="7.55" height="5.75" fill="#cacace"/>
<rect x="138.49" y="211.28" width="7.55" height="5.75" fill="#aa0c36"/>
<rect x="147.18" y="211.28" width="7.55" height="5.75" fill="#cacace"/>
<rect x="155.87" y="211.28" width="7.55" height="5.75" fill="#cacace"/>
<rect x="164.56" y="211.28" width="7.55" height="5.75" fill="#cacace"/>
<rect x="173.25" y="211.28" width="7.55" height="5.75" fill="#cacace"/>
<rect x="181.94" y="211.28" width="7.55" height="5.75" fill="#cacace"/>
<rect x="190.63" y="211.28" width="7.55" height="5.75" fill="#cacace"/>
<rect x="199.32" y="211.28" width="7.55" height="5.75" fill="#aa0c36"/>
<rect x="208.01" y="211.28" width="7.55" height="5.75" fill="#cacace"/>
<text x="39.60" y="216.46" font-size="6.55" text-anchor="end" font-style="italic" fill="#000" stroke="#000" stroke-width="0.12">ARID1A</text>
<rect x="217.20" y="211.28" width="9.60" height="5.75" fill="#63a1d9"/>
<rect x="42.90" y="218.24" width="7.55" height="5.75" fill="#cacace"/>
<rect x="51.59" y="218.24" width="7.55" height="5.75" fill="#cacace"/>
<rect x="60.28" y="218.24" width="7.55" height="5.75" fill="#cacace"/>
<rect x="68.97" y="218.24" width="7.55" height="5.75" fill="#cacace"/>
<rect x="77.66" y="218.24" width="7.55" height="5.75" fill="#cacace"/>
<rect x="86.35" y="218.24" width="7.55" height="5.75" fill="#cacace"/>
<rect x="95.04" y="218.24" width="7.55" height="5.75" fill="#cacace"/>
<rect x="103.73" y="218.24" width="7.55" height="5.75" fill="#cacace"/>
<rect x="112.42" y="218.24" width="7.55" height="5.75" fill="#cacace"/>
<rect x="121.11" y="218.24" width="7.55" height="5.75" fill="#cacace"/>
<rect x="129.80" y="218.24" width="7.55" height="5.75" fill="#cacace"/>
<rect x="138.49" y="218.24" width="7.55" height="5.75" fill="#cacace"/>
<rect x="147.18" y="218.24" width="7.55" height="5.75" fill="#cacace"/>
<rect x="155.87" y="218.24" width="7.55" height="5.75" fill="#aa0c36"/>
<rect x="164.56" y="218.24" width="7.55" height="5.75" fill="#cacace"/>
<rect x="173.25" y="218.24" width="7.55" height="5.75" fill="#cacace"/>
<rect x="181.94" y="218.24" width="7.55" height="5.75" fill="#cacace"/>
<rect x="190.63" y="218.24" width="7.55" height="5.75" fill="#cacace"/>
<rect x="199.32" y="218.24" width="7.55" height="5.75" fill="#cacace"/>
<rect x="208.01" y="218.24" width="7.55" height="5.75" fill="#cacace"/>
<text x="39.60" y="223.42" font-size="6.55" text-anchor="end" font-style="italic" fill="#000" stroke="#000" stroke-width="0.12">ATM</text>
<rect x="217.20" y="218.24" width="4.80" height="5.75" fill="#63a1d9"/>
<rect x="42.90" y="225.20" width="7.55" height="5.75" fill="#cacace"/>
<rect x="51.59" y="225.20" width="7.55" height="5.75" fill="#cacace"/>
<rect x="60.28" y="225.20" width="7.55" height="5.75" fill="#cacace"/>
<rect x="68.97" y="225.20" width="7.55" height="5.75" fill="#aa0c36"/>
<rect x="77.66" y="225.20" width="7.55" height="5.75" fill="#cacace"/>
<rect x="86.35" y="225.20" width="7.55" height="5.75" fill="#cacace"/>
<rect x="95.04" y="225.20" width="7.55" height="5.75" fill="#cacace"/>
<rect x="103.73" y="225.20" width="7.55" height="5.75" fill="#cacace"/>
<rect x="112.42" y="225.20" width="7.55" height="5.75" fill="#cacace"/>
<rect x="121.11" y="225.20" width="7.55" height="5.75" fill="#cacace"/>
<rect x="129.80" y="225.20" width="7.55" height="5.75" fill="#cacace"/>
<rect x="138.49" y="225.20" width="7.55" height="5.75" fill="#cacace"/>
<rect x="147.18" y="225.20" width="7.55" height="5.75" fill="#cacace"/>
<rect x="155.87" y="225.20" width="7.55" height="5.75" fill="#cacace"/>
<rect x="164.56" y="225.20" width="7.55" height="5.75" fill="#cacace"/>
<rect x="173.25" y="225.20" width="7.55" height="5.75" fill="#cacace"/>
<rect x="181.94" y="225.20" width="7.55" height="5.75" fill="#cacace"/>
<rect x="190.63" y="225.20" width="7.55" height="5.75" fill="#cacace"/>
<rect x="199.32" y="225.20" width="7.55" height="5.75" fill="#cacace"/>
<rect x="208.01" y="225.20" width="7.55" height="5.75" fill="#cacace"/>
<text x="39.60" y="230.38" font-size="6.55" text-anchor="end" font-style="italic" fill="#000" stroke="#000" stroke-width="0.12">CARD11</text>
<rect x="217.20" y="225.20" width="4.80" height="5.75" fill="#63a1d9"/>
<rect x="42.90" y="232.16" width="7.55" height="5.75" fill="#cacace"/>
<rect x="51.59" y="232.16" width="7.55" height="5.75" fill="#cacace"/>
<rect x="60.28" y="232.16" width="7.55" height="5.75" fill="#cacace"/>
<rect x="68.97" y="232.16" width="7.55" height="5.75" fill="#cacace"/>
<rect x="77.66" y="232.16" width="7.55" height="5.75" fill="#cacace"/>
<rect x="86.35" y="232.16" width="7.55" height="5.75" fill="#cacace"/>
<rect x="95.04" y="232.16" width="7.55" height="5.75" fill="#cacace"/>
<rect x="103.73" y="232.16" width="7.55" height="5.75" fill="#cacace"/>
<rect x="112.42" y="232.16" width="7.55" height="5.75" fill="#cacace"/>
<rect x="121.11" y="232.16" width="7.55" height="5.75" fill="#cacace"/>
<rect x="129.80" y="232.16" width="7.55" height="5.75" fill="#aa0c36"/>
<rect x="138.49" y="232.16" width="7.55" height="5.75" fill="#cacace"/>
<rect x="147.18" y="232.16" width="7.55" height="5.75" fill="#cacace"/>
<rect x="155.87" y="232.16" width="7.55" height="5.75" fill="#cacace"/>
<rect x="164.56" y="232.16" width="7.55" height="5.75" fill="#cacace"/>
<rect x="173.25" y="232.16" width="7.55" height="5.75" fill="#cacace"/>
<rect x="181.94" y="232.16" width="7.55" height="5.75" fill="#cacace"/>
<rect x="190.63" y="232.16" width="7.55" height="5.75" fill="#cacace"/>
<rect x="199.32" y="232.16" width="7.55" height="5.75" fill="#cacace"/>
<rect x="208.01" y="232.16" width="7.55" height="5.75" fill="#cacace"/>
<text x="39.60" y="237.34" font-size="6.55" text-anchor="end" font-style="italic" fill="#000" stroke="#000" stroke-width="0.12">CD58</text>
<rect x="217.20" y="232.16" width="4.80" height="5.75" fill="#63a1d9"/>
<rect x="42.90" y="239.12" width="7.55" height="5.75" fill="#cacace"/>
<rect x="51.59" y="239.12" width="7.55" height="5.75" fill="#cacace"/>
<rect x="60.28" y="239.12" width="7.55" height="5.75" fill="#cacace"/>
<rect x="68.97" y="239.12" width="7.55" height="5.75" fill="#cacace"/>
<rect x="77.66" y="239.12" width="7.55" height="5.75" fill="#cacace"/>
<rect x="86.35" y="239.12" width="7.55" height="5.75" fill="#cacace"/>
<rect x="95.04" y="239.12" width="7.55" height="5.75" fill="#aa0c36"/>
<rect x="103.73" y="239.12" width="7.55" height="5.75" fill="#cacace"/>
<rect x="112.42" y="239.12" width="7.55" height="5.75" fill="#cacace"/>
<rect x="121.11" y="239.12" width="7.55" height="5.75" fill="#cacace"/>
<rect x="129.80" y="239.12" width="7.55" height="5.75" fill="#cacace"/>
<rect x="138.49" y="239.12" width="7.55" height="5.75" fill="#cacace"/>
<rect x="147.18" y="239.12" width="7.55" height="5.75" fill="#cacace"/>
<rect x="155.87" y="239.12" width="7.55" height="5.75" fill="#cacace"/>
<rect x="164.56" y="239.12" width="7.55" height="5.75" fill="#cacace"/>
<rect x="173.25" y="239.12" width="7.55" height="5.75" fill="#cacace"/>
<rect x="181.94" y="239.12" width="7.55" height="5.75" fill="#cacace"/>
<rect x="190.63" y="239.12" width="7.55" height="5.75" fill="#cacace"/>
<rect x="199.32" y="239.12" width="7.55" height="5.75" fill="#cacace"/>
<rect x="208.01" y="239.12" width="7.55" height="5.75" fill="#cacace"/>
<text x="39.60" y="244.30" font-size="6.55" text-anchor="end" font-style="italic" fill="#000" stroke="#000" stroke-width="0.12">EP300</text>
<rect x="217.20" y="239.12" width="4.80" height="5.75" fill="#63a1d9"/>
<rect x="42.90" y="246.08" width="7.55" height="5.75" fill="#cacace"/>
<rect x="51.59" y="246.08" width="7.55" height="5.75" fill="#cacace"/>
<rect x="60.28" y="246.08" width="7.55" height="5.75" fill="#cacace"/>
<rect x="68.97" y="246.08" width="7.55" height="5.75" fill="#cacace"/>
<rect x="77.66" y="246.08" width="7.55" height="5.75" fill="#cacace"/>
<rect x="86.35" y="246.08" width="7.55" height="5.75" fill="#cacace"/>
<rect x="95.04" y="246.08" width="7.55" height="5.75" fill="#aa0c36"/>
<rect x="103.73" y="246.08" width="7.55" height="5.75" fill="#cacace"/>
<rect x="112.42" y="246.08" width="7.55" height="5.75" fill="#cacace"/>
<rect x="121.11" y="246.08" width="7.55" height="5.75" fill="#cacace"/>
<rect x="129.80" y="246.08" width="7.55" height="5.75" fill="#cacace"/>
<rect x="138.49" y="246.08" width="7.55" height="5.75" fill="#cacace"/>
<rect x="147.18" y="246.08" width="7.55" height="5.75" fill="#cacace"/>
<rect x="155.87" y="246.08" width="7.55" height="5.75" fill="#cacace"/>
<rect x="164.56" y="246.08" width="7.55" height="5.75" fill="#cacace"/>
<rect x="173.25" y="246.08" width="7.55" height="5.75" fill="#cacace"/>
<rect x="181.94" y="246.08" width="7.55" height="5.75" fill="#cacace"/>
<rect x="190.63" y="246.08" width="7.55" height="5.75" fill="#cacace"/>
<rect x="199.32" y="246.08" width="7.55" height="5.75" fill="#cacace"/>
<rect x="208.01" y="246.08" width="7.55" height="5.75" fill="#cacace"/>
<text x="39.60" y="251.26" font-size="6.55" text-anchor="end" font-style="italic" fill="#000" stroke="#000" stroke-width="0.12">FBXW7</text>
<rect x="217.20" y="246.08" width="4.80" height="5.75" fill="#63a1d9"/>
<rect x="42.90" y="253.04" width="7.55" height="5.75" fill="#cacace"/>
<rect x="51.59" y="253.04" width="7.55" height="5.75" fill="#cacace"/>
<rect x="60.28" y="253.04" width="7.55" height="5.75" fill="#cacace"/>
<rect x="68.97" y="253.04" width="7.55" height="5.75" fill="#aa0c36"/>
<rect x="77.66" y="253.04" width="7.55" height="5.75" fill="#cacace"/>
<rect x="86.35" y="253.04" width="7.55" height="5.75" fill="#cacace"/>
<rect x="95.04" y="253.04" width="7.55" height="5.75" fill="#cacace"/>
<rect x="103.73" y="253.04" width="7.55" height="5.75" fill="#cacace"/>
<rect x="112.42" y="253.04" width="7.55" height="5.75" fill="#cacace"/>
<rect x="121.11" y="253.04" width="7.55" height="5.75" fill="#cacace"/>
<rect x="129.80" y="253.04" width="7.55" height="5.75" fill="#cacace"/>
<rect x="138.49" y="253.04" width="7.55" height="5.75" fill="#cacace"/>
<rect x="147.18" y="253.04" width="7.55" height="5.75" fill="#cacace"/>
<rect x="155.87" y="253.04" width="7.55" height="5.75" fill="#cacace"/>
<rect x="164.56" y="253.04" width="7.55" height="5.75" fill="#cacace"/>
<rect x="173.25" y="253.04" width="7.55" height="5.75" fill="#cacace"/>
<rect x="181.94" y="253.04" width="7.55" height="5.75" fill="#cacace"/>
<rect x="190.63" y="253.04" width="7.55" height="5.75" fill="#cacace"/>
<rect x="199.32" y="253.04" width="7.55" height="5.75" fill="#cacace"/>
<rect x="208.01" y="253.04" width="7.55" height="5.75" fill="#cacace"/>
<text x="39.60" y="258.21" font-size="6.55" text-anchor="end" font-style="italic" fill="#000" stroke="#000" stroke-width="0.12">GNA13</text>
<rect x="217.20" y="253.04" width="4.80" height="5.75" fill="#63a1d9"/>
<rect x="42.90" y="260.00" width="7.55" height="5.75" fill="#cacace"/>
<rect x="51.59" y="260.00" width="7.55" height="5.75" fill="#cacace"/>
<rect x="60.28" y="260.00" width="7.55" height="5.75" fill="#cacace"/>
<rect x="68.97" y="260.00" width="7.55" height="5.75" fill="#cacace"/>
<rect x="77.66" y="260.00" width="7.55" height="5.75" fill="#cacace"/>
<rect x="86.35" y="260.00" width="7.55" height="5.75" fill="#cacace"/>
<rect x="95.04" y="260.00" width="7.55" height="5.75" fill="#cacace"/>
<rect x="103.73" y="260.00" width="7.55" height="5.75" fill="#cacace"/>
<rect x="112.42" y="260.00" width="7.55" height="5.75" fill="#cacace"/>
<rect x="121.11" y="260.00" width="7.55" height="5.75" fill="#cacace"/>
<rect x="129.80" y="260.00" width="7.55" height="5.75" fill="#cacace"/>
<rect x="138.49" y="260.00" width="7.55" height="5.75" fill="#cacace"/>
<rect x="147.18" y="260.00" width="7.55" height="5.75" fill="#cacace"/>
<rect x="155.87" y="260.00" width="7.55" height="5.75" fill="#cacace"/>
<rect x="164.56" y="260.00" width="7.55" height="5.75" fill="#cacace"/>
<rect x="173.25" y="260.00" width="7.55" height="5.75" fill="#cacace"/>
<rect x="181.94" y="260.00" width="7.55" height="5.75" fill="#aa0c36"/>
<rect x="190.63" y="260.00" width="7.55" height="5.75" fill="#cacace"/>
<rect x="199.32" y="260.00" width="7.55" height="5.75" fill="#cacace"/>
<rect x="208.01" y="260.00" width="7.55" height="5.75" fill="#cacace"/>
<text x="39.60" y="265.18" font-size="6.55" text-anchor="end" font-style="italic" fill="#000" stroke="#000" stroke-width="0.12">HIST1H1E</text>
<rect x="217.20" y="260.00" width="4.80" height="5.75" fill="#63a1d9"/>
<rect x="42.90" y="266.96" width="7.55" height="5.75" fill="#cacace"/>
<rect x="51.59" y="266.96" width="7.55" height="5.75" fill="#cacace"/>
<rect x="60.28" y="266.96" width="7.55" height="5.75" fill="#cacace"/>
<rect x="68.97" y="266.96" width="7.55" height="5.75" fill="#cacace"/>
<rect x="77.66" y="266.96" width="7.55" height="5.75" fill="#cacace"/>
<rect x="86.35" y="266.96" width="7.55" height="5.75" fill="#cacace"/>
<rect x="95.04" y="266.96" width="7.55" height="5.75" fill="#cacace"/>
<rect x="103.73" y="266.96" width="7.55" height="5.75" fill="#cacace"/>
<rect x="112.42" y="266.96" width="7.55" height="5.75" fill="#aa0c36"/>
<rect x="121.11" y="266.96" width="7.55" height="5.75" fill="#cacace"/>
<rect x="129.80" y="266.96" width="7.55" height="5.75" fill="#cacace"/>
<rect x="138.49" y="266.96" width="7.55" height="5.75" fill="#cacace"/>
<rect x="147.18" y="266.96" width="7.55" height="5.75" fill="#cacace"/>
<rect x="155.87" y="266.96" width="7.55" height="5.75" fill="#cacace"/>
<rect x="164.56" y="266.96" width="7.55" height="5.75" fill="#cacace"/>
<rect x="173.25" y="266.96" width="7.55" height="5.75" fill="#cacace"/>
<rect x="181.94" y="266.96" width="7.55" height="5.75" fill="#cacace"/>
<rect x="190.63" y="266.96" width="7.55" height="5.75" fill="#cacace"/>
<rect x="199.32" y="266.96" width="7.55" height="5.75" fill="#cacace"/>
<rect x="208.01" y="266.96" width="7.55" height="5.75" fill="#cacace"/>
<text x="39.60" y="272.14" font-size="6.55" text-anchor="end" font-style="italic" fill="#000" stroke="#000" stroke-width="0.12">ID3</text>
<rect x="217.20" y="266.96" width="4.80" height="5.75" fill="#63a1d9"/>
<rect x="42.90" y="273.92" width="7.55" height="5.75" fill="#cacace"/>
<rect x="51.59" y="273.92" width="7.55" height="5.75" fill="#cacace"/>
<rect x="60.28" y="273.92" width="7.55" height="5.75" fill="#cacace"/>
<rect x="68.97" y="273.92" width="7.55" height="5.75" fill="#cacace"/>
<rect x="77.66" y="273.92" width="7.55" height="5.75" fill="#cacace"/>
<rect x="86.35" y="273.92" width="7.55" height="5.75" fill="#cacace"/>
<rect x="95.04" y="273.92" width="7.55" height="5.75" fill="#cacace"/>
<rect x="103.73" y="273.92" width="7.55" height="5.75" fill="#cacace"/>
<rect x="112.42" y="273.92" width="7.55" height="5.75" fill="#cacace"/>
<rect x="121.11" y="273.92" width="7.55" height="5.75" fill="#cacace"/>
<rect x="129.80" y="273.92" width="7.55" height="5.75" fill="#cacace"/>
<rect x="138.49" y="273.92" width="7.55" height="5.75" fill="#aa0c36"/>
<rect x="147.18" y="273.92" width="7.55" height="5.75" fill="#cacace"/>
<rect x="155.87" y="273.92" width="7.55" height="5.75" fill="#cacace"/>
<rect x="164.56" y="273.92" width="7.55" height="5.75" fill="#cacace"/>
<rect x="173.25" y="273.92" width="7.55" height="5.75" fill="#cacace"/>
<rect x="181.94" y="273.92" width="7.55" height="5.75" fill="#cacace"/>
<rect x="190.63" y="273.92" width="7.55" height="5.75" fill="#cacace"/>
<rect x="199.32" y="273.92" width="7.55" height="5.75" fill="#cacace"/>
<rect x="208.01" y="273.92" width="7.55" height="5.75" fill="#cacace"/>
<text x="39.60" y="279.09" font-size="6.55" text-anchor="end" font-style="italic" fill="#000" stroke="#000" stroke-width="0.12">IKBKB</text>
<rect x="217.20" y="273.92" width="4.80" height="5.75" fill="#63a1d9"/>
<rect x="42.90" y="280.88" width="7.55" height="5.75" fill="#cacace"/>
<rect x="51.59" y="280.88" width="7.55" height="5.75" fill="#cacace"/>
<rect x="60.28" y="280.88" width="7.55" height="5.75" fill="#cacace"/>
<rect x="68.97" y="280.88" width="7.55" height="5.75" fill="#cacace"/>
<rect x="77.66" y="280.88" width="7.55" height="5.75" fill="#cacace"/>
<rect x="86.35" y="280.88" width="7.55" height="5.75" fill="#cacace"/>
<rect x="95.04" y="280.88" width="7.55" height="5.75" fill="#cacace"/>
<rect x="103.73" y="280.88" width="7.55" height="5.75" fill="#cacace"/>
<rect x="112.42" y="280.88" width="7.55" height="5.75" fill="#cacace"/>
<rect x="121.11" y="280.88" width="7.55" height="5.75" fill="#cacace"/>
<rect x="129.80" y="280.88" width="7.55" height="5.75" fill="#cacace"/>
<rect x="138.49" y="280.88" width="7.55" height="5.75" fill="#cacace"/>
<rect x="147.18" y="280.88" width="7.55" height="5.75" fill="#cacace"/>
<rect x="155.87" y="280.88" width="7.55" height="5.75" fill="#cacace"/>
<rect x="164.56" y="280.88" width="7.55" height="5.75" fill="#cacace"/>
<rect x="173.25" y="280.88" width="7.55" height="5.75" fill="#cacace"/>
<rect x="181.94" y="280.88" width="7.55" height="5.75" fill="#aa0c36"/>
<rect x="190.63" y="280.88" width="7.55" height="5.75" fill="#cacace"/>
<rect x="199.32" y="280.88" width="7.55" height="5.75" fill="#cacace"/>
<rect x="208.01" y="280.88" width="7.55" height="5.75" fill="#cacace"/>
<text x="39.60" y="286.06" font-size="6.55" text-anchor="end" font-style="italic" fill="#000" stroke="#000" stroke-width="0.12">ITPKB</text>
<rect x="217.20" y="280.88" width="4.80" height="5.75" fill="#63a1d9"/>
<rect x="42.90" y="287.84" width="7.55" height="5.75" fill="#cacace"/>
<rect x="51.59" y="287.84" width="7.55" height="5.75" fill="#cacace"/>
<rect x="60.28" y="287.84" width="7.55" height="5.75" fill="#cacace"/>
<rect x="68.97" y="287.84" width="7.55" height="5.75" fill="#cacace"/>
<rect x="77.66" y="287.84" width="7.55" height="5.75" fill="#cacace"/>
<rect x="86.35" y="287.84" width="7.55" height="5.75" fill="#cacace"/>
<rect x="95.04" y="287.84" width="7.55" height="5.75" fill="#cacace"/>
<rect x="103.73" y="287.84" width="7.55" height="5.75" fill="#cacace"/>
<rect x="112.42" y="287.84" width="7.55" height="5.75" fill="#cacace"/>
<rect x="121.11" y="287.84" width="7.55" height="5.75" fill="#cacace"/>
<rect x="129.80" y="287.84" width="7.55" height="5.75" fill="#cacace"/>
<rect x="138.49" y="287.84" width="7.55" height="5.75" fill="#aa0c36"/>
<rect x="147.18" y="287.84" width="7.55" height="5.75" fill="#cacace"/>
<rect x="155.87" y="287.84" width="7.55" height="5.75" fill="#cacace"/>
<rect x="164.56" y="287.84" width="7.55" height="5.75" fill="#cacace"/>
<rect x="173.25" y="287.84" width="7.55" height="5.75" fill="#cacace"/>
<rect x="181.94" y="287.84" width="7.55" height="5.75" fill="#cacace"/>
<rect x="190.63" y="287.84" width="7.55" height="5.75" fill="#cacace"/>
<rect x="199.32" y="287.84" width="7.55" height="5.75" fill="#cacace"/>
<rect x="208.01" y="287.84" width="7.55" height="5.75" fill="#cacace"/>
<text x="39.60" y="293.02" font-size="6.55" text-anchor="end" font-style="italic" fill="#000" stroke="#000" stroke-width="0.12">KRAS</text>
<rect x="217.20" y="287.84" width="4.80" height="5.75" fill="#63a1d9"/>
<rect x="42.90" y="294.80" width="7.55" height="5.75" fill="#cacace"/>
<rect x="51.59" y="294.80" width="7.55" height="5.75" fill="#aa0c36"/>
<rect x="60.28" y="294.80" width="7.55" height="5.75" fill="#cacace"/>
<rect x="68.97" y="294.80" width="7.55" height="5.75" fill="#cacace"/>
<rect x="77.66" y="294.80" width="7.55" height="5.75" fill="#cacace"/>
<rect x="86.35" y="294.80" width="7.55" height="5.75" fill="#cacace"/>
<rect x="95.04" y="294.80" width="7.55" height="5.75" fill="#cacace"/>
<rect x="103.73" y="294.80" width="7.55" height="5.75" fill="#cacace"/>
<rect x="112.42" y="294.80" width="7.55" height="5.75" fill="#cacace"/>
<rect x="121.11" y="294.80" width="7.55" height="5.75" fill="#cacace"/>
<rect x="129.80" y="294.80" width="7.55" height="5.75" fill="#cacace"/>
<rect x="138.49" y="294.80" width="7.55" height="5.75" fill="#cacace"/>
<rect x="147.18" y="294.80" width="7.55" height="5.75" fill="#cacace"/>
<rect x="155.87" y="294.80" width="7.55" height="5.75" fill="#cacace"/>
<rect x="164.56" y="294.80" width="7.55" height="5.75" fill="#cacace"/>
<rect x="173.25" y="294.80" width="7.55" height="5.75" fill="#cacace"/>
<rect x="181.94" y="294.80" width="7.55" height="5.75" fill="#cacace"/>
<rect x="190.63" y="294.80" width="7.55" height="5.75" fill="#cacace"/>
<rect x="199.32" y="294.80" width="7.55" height="5.75" fill="#cacace"/>
<rect x="208.01" y="294.80" width="7.55" height="5.75" fill="#cacace"/>
<text x="39.60" y="299.98" font-size="6.55" text-anchor="end" font-style="italic" fill="#000" stroke="#000" stroke-width="0.12">MAP2K1</text>
<rect x="217.20" y="294.80" width="4.80" height="5.75" fill="#63a1d9"/>
<rect x="42.90" y="301.76" width="7.55" height="5.75" fill="#cacace"/>
<rect x="51.59" y="301.76" width="7.55" height="5.75" fill="#aa0c36"/>
<rect x="60.28" y="301.76" width="7.55" height="5.75" fill="#cacace"/>
<rect x="68.97" y="301.76" width="7.55" height="5.75" fill="#cacace"/>
<rect x="77.66" y="301.76" width="7.55" height="5.75" fill="#cacace"/>
<rect x="86.35" y="301.76" width="7.55" height="5.75" fill="#cacace"/>
<rect x="95.04" y="301.76" width="7.55" height="5.75" fill="#cacace"/>
<rect x="103.73" y="301.76" width="7.55" height="5.75" fill="#cacace"/>
<rect x="112.42" y="301.76" width="7.55" height="5.75" fill="#cacace"/>
<rect x="121.11" y="301.76" width="7.55" height="5.75" fill="#cacace"/>
<rect x="129.80" y="301.76" width="7.55" height="5.75" fill="#cacace"/>
<rect x="138.49" y="301.76" width="7.55" height="5.75" fill="#cacace"/>
<rect x="147.18" y="301.76" width="7.55" height="5.75" fill="#cacace"/>
<rect x="155.87" y="301.76" width="7.55" height="5.75" fill="#cacace"/>
<rect x="164.56" y="301.76" width="7.55" height="5.75" fill="#cacace"/>
<rect x="173.25" y="301.76" width="7.55" height="5.75" fill="#cacace"/>
<rect x="181.94" y="301.76" width="7.55" height="5.75" fill="#cacace"/>
<rect x="190.63" y="301.76" width="7.55" height="5.75" fill="#cacace"/>
<rect x="199.32" y="301.76" width="7.55" height="5.75" fill="#cacace"/>
<rect x="208.01" y="301.76" width="7.55" height="5.75" fill="#cacace"/>
<text x="39.60" y="306.94" font-size="6.55" text-anchor="end" font-style="italic" fill="#000" stroke="#000" stroke-width="0.12">MEF2B</text>
<rect x="217.20" y="301.76" width="4.80" height="5.75" fill="#63a1d9"/>
<rect x="42.90" y="308.72" width="7.55" height="5.75" fill="#cacace"/>
<rect x="51.59" y="308.72" width="7.55" height="5.75" fill="#cacace"/>
<rect x="60.28" y="308.72" width="7.55" height="5.75" fill="#cacace"/>
<rect x="68.97" y="308.72" width="7.55" height="5.75" fill="#cacace"/>
<rect x="77.66" y="308.72" width="7.55" height="5.75" fill="#cacace"/>
<rect x="86.35" y="308.72" width="7.55" height="5.75" fill="#cacace"/>
<rect x="95.04" y="308.72" width="7.55" height="5.75" fill="#cacace"/>
<rect x="103.73" y="308.72" width="7.55" height="5.75" fill="#cacace"/>
<rect x="112.42" y="308.72" width="7.55" height="5.75" fill="#cacace"/>
<rect x="121.11" y="308.72" width="7.55" height="5.75" fill="#aa0c36"/>
<rect x="129.80" y="308.72" width="7.55" height="5.75" fill="#cacace"/>
<rect x="138.49" y="308.72" width="7.55" height="5.75" fill="#cacace"/>
<rect x="147.18" y="308.72" width="7.55" height="5.75" fill="#cacace"/>
<rect x="155.87" y="308.72" width="7.55" height="5.75" fill="#cacace"/>
<rect x="164.56" y="308.72" width="7.55" height="5.75" fill="#cacace"/>
<rect x="173.25" y="308.72" width="7.55" height="5.75" fill="#cacace"/>
<rect x="181.94" y="308.72" width="7.55" height="5.75" fill="#cacace"/>
<rect x="190.63" y="308.72" width="7.55" height="5.75" fill="#cacace"/>
<rect x="199.32" y="308.72" width="7.55" height="5.75" fill="#cacace"/>
<rect x="208.01" y="308.72" width="7.55" height="5.75" fill="#cacace"/>
<text x="39.60" y="313.90" font-size="6.55" text-anchor="end" font-style="italic" fill="#000" stroke="#000" stroke-width="0.12">MYD88</text>
<rect x="217.20" y="308.72" width="4.80" height="5.75" fill="#63a1d9"/>
<rect x="42.90" y="315.68" width="7.55" height="5.75" fill="#cacace"/>
<rect x="51.59" y="315.68" width="7.55" height="5.75" fill="#cacace"/>
<rect x="60.28" y="315.68" width="7.55" height="5.75" fill="#cacace"/>
<rect x="68.97" y="315.68" width="7.55" height="5.75" fill="#cacace"/>
<rect x="77.66" y="315.68" width="7.55" height="5.75" fill="#cacace"/>
<rect x="86.35" y="315.68" width="7.55" height="5.75" fill="#cacace"/>
<rect x="95.04" y="315.68" width="7.55" height="5.75" fill="#cacace"/>
<rect x="103.73" y="315.68" width="7.55" height="5.75" fill="#cacace"/>
<rect x="112.42" y="315.68" width="7.55" height="5.75" fill="#cacace"/>
<rect x="121.11" y="315.68" width="7.55" height="5.75" fill="#cacace"/>
<rect x="129.80" y="315.68" width="7.55" height="5.75" fill="#cacace"/>
<rect x="138.49" y="315.68" width="7.55" height="5.75" fill="#cacace"/>
<rect x="147.18" y="315.68" width="7.55" height="5.75" fill="#cacace"/>
<rect x="155.87" y="315.68" width="7.55" height="5.75" fill="#cacace"/>
<rect x="164.56" y="315.68" width="7.55" height="5.75" fill="#aa0c36"/>
<rect x="173.25" y="315.68" width="7.55" height="5.75" fill="#cacace"/>
<rect x="181.94" y="315.68" width="7.55" height="5.75" fill="#cacace"/>
<rect x="190.63" y="315.68" width="7.55" height="5.75" fill="#cacace"/>
<rect x="199.32" y="315.68" width="7.55" height="5.75" fill="#cacace"/>
<rect x="208.01" y="315.68" width="7.55" height="5.75" fill="#cacace"/>
<text x="39.60" y="320.86" font-size="6.55" text-anchor="end" font-style="italic" fill="#000" stroke="#000" stroke-width="0.12">NOTCH1</text>
<rect x="217.20" y="315.68" width="4.80" height="5.75" fill="#63a1d9"/>
<rect x="42.90" y="322.64" width="7.55" height="5.75" fill="#cacace"/>
<rect x="51.59" y="322.64" width="7.55" height="5.75" fill="#cacace"/>
<rect x="60.28" y="322.64" width="7.55" height="5.75" fill="#cacace"/>
<rect x="68.97" y="322.64" width="7.55" height="5.75" fill="#cacace"/>
<rect x="77.66" y="322.64" width="7.55" height="5.75" fill="#cacace"/>
<rect x="86.35" y="322.64" width="7.55" height="5.75" fill="#cacace"/>
<rect x="95.04" y="322.64" width="7.55" height="5.75" fill="#cacace"/>
<rect x="103.73" y="322.64" width="7.55" height="5.75" fill="#cacace"/>
<rect x="112.42" y="322.64" width="7.55" height="5.75" fill="#cacace"/>
<rect x="121.11" y="322.64" width="7.55" height="5.75" fill="#cacace"/>
<rect x="129.80" y="322.64" width="7.55" height="5.75" fill="#cacace"/>
<rect x="138.49" y="322.64" width="7.55" height="5.75" fill="#cacace"/>
<rect x="147.18" y="322.64" width="7.55" height="5.75" fill="#cacace"/>
<rect x="155.87" y="322.64" width="7.55" height="5.75" fill="#aa0c36"/>
<rect x="164.56" y="322.64" width="7.55" height="5.75" fill="#cacace"/>
<rect x="173.25" y="322.64" width="7.55" height="5.75" fill="#cacace"/>
<rect x="181.94" y="322.64" width="7.55" height="5.75" fill="#cacace"/>
<rect x="190.63" y="322.64" width="7.55" height="5.75" fill="#cacace"/>
<rect x="199.32" y="322.64" width="7.55" height="5.75" fill="#cacace"/>
<rect x="208.01" y="322.64" width="7.55" height="5.75" fill="#cacace"/>
<text x="39.60" y="327.81" font-size="6.55" text-anchor="end" font-style="italic" fill="#000" stroke="#000" stroke-width="0.12">POT1</text>
<rect x="217.20" y="322.64" width="4.80" height="5.75" fill="#63a1d9"/>
<rect x="42.90" y="329.60" width="7.55" height="5.75" fill="#cacace"/>
<rect x="51.59" y="329.60" width="7.55" height="5.75" fill="#cacace"/>
<rect x="60.28" y="329.60" width="7.55" height="5.75" fill="#cacace"/>
<rect x="68.97" y="329.60" width="7.55" height="5.75" fill="#cacace"/>
<rect x="77.66" y="329.60" width="7.55" height="5.75" fill="#cacace"/>
<rect x="86.35" y="329.60" width="7.55" height="5.75" fill="#cacace"/>
<rect x="95.04" y="329.60" width="7.55" height="5.75" fill="#cacace"/>
<rect x="103.73" y="329.60" width="7.55" height="5.75" fill="#cacace"/>
<rect x="112.42" y="329.60" width="7.55" height="5.75" fill="#cacace"/>
<rect x="121.11" y="329.60" width="7.55" height="5.75" fill="#cacace"/>
<rect x="129.80" y="329.60" width="7.55" height="5.75" fill="#cacace"/>
<rect x="138.49" y="329.60" width="7.55" height="5.75" fill="#cacace"/>
<rect x="147.18" y="329.60" width="7.55" height="5.75" fill="#aa0c36"/>
<rect x="155.87" y="329.60" width="7.55" height="5.75" fill="#cacace"/>
<rect x="164.56" y="329.60" width="7.55" height="5.75" fill="#cacace"/>
<rect x="173.25" y="329.60" width="7.55" height="5.75" fill="#cacace"/>
<rect x="181.94" y="329.60" width="7.55" height="5.75" fill="#cacace"/>
<rect x="190.63" y="329.60" width="7.55" height="5.75" fill="#cacace"/>
<rect x="199.32" y="329.60" width="7.55" height="5.75" fill="#cacace"/>
<rect x="208.01" y="329.60" width="7.55" height="5.75" fill="#cacace"/>
<text x="39.60" y="334.78" font-size="6.55" text-anchor="end" font-style="italic" fill="#000" stroke="#000" stroke-width="0.12">XPO1</text>
<rect x="217.20" y="329.60" width="4.80" height="5.75" fill="#63a1d9"/>
<rect x="42.90" y="336.56" width="7.55" height="5.75" fill="#cacace"/>
<rect x="51.59" y="336.56" width="7.55" height="5.75" fill="#cacace"/>
<rect x="60.28" y="336.56" width="7.55" height="5.75" fill="#cacace"/>
<rect x="68.97" y="336.56" width="7.55" height="5.75" fill="#cacace"/>
<rect x="77.66" y="336.56" width="7.55" height="5.75" fill="#cacace"/>
<rect x="86.35" y="336.56" width="7.55" height="5.75" fill="#cacace"/>
<rect x="95.04" y="336.56" width="7.55" height="5.75" fill="#cacace"/>
<rect x="103.73" y="336.56" width="7.55" height="5.75" fill="#cacace"/>
<rect x="112.42" y="336.56" width="7.55" height="5.75" fill="#cacace"/>
<rect x="121.11" y="336.56" width="7.55" height="5.75" fill="#cacace"/>
<rect x="129.80" y="336.56" width="7.55" height="5.75" fill="#cacace"/>
<rect x="138.49" y="336.56" width="7.55" height="5.75" fill="#cacace"/>
<rect x="147.18" y="336.56" width="7.55" height="5.75" fill="#cacace"/>
<rect x="155.87" y="336.56" width="7.55" height="5.75" fill="#cacace"/>
<rect x="164.56" y="336.56" width="7.55" height="5.75" fill="#aa0c36"/>
<rect x="173.25" y="336.56" width="7.55" height="5.75" fill="#cacace"/>
<rect x="181.94" y="336.56" width="7.55" height="5.75" fill="#cacace"/>
<rect x="190.63" y="336.56" width="7.55" height="5.75" fill="#cacace"/>
<rect x="199.32" y="336.56" width="7.55" height="5.75" fill="#cacace"/>
<rect x="208.01" y="336.56" width="7.55" height="5.75" fill="#cacace"/>
<text x="39.60" y="341.74" font-size="6.55" text-anchor="end" font-style="italic" fill="#000" stroke="#000" stroke-width="0.12">ZMYM3</text>
<rect x="217.20" y="336.56" width="4.80" height="5.75" fill="#63a1d9"/>
<rect x="42.90" y="343.52" width="7.55" height="5.75" fill="#cacace"/>
<rect x="51.59" y="343.52" width="7.55" height="5.75" fill="#cacace"/>
<rect x="60.28" y="343.52" width="7.55" height="5.75" fill="#cacace"/>
<rect x="68.97" y="343.52" width="7.55" height="5.75" fill="#cacace"/>
<rect x="77.66" y="343.52" width="7.55" height="5.75" fill="#cacace"/>
<rect x="86.35" y="343.52" width="7.55" height="5.75" fill="#cacace"/>
<rect x="95.04" y="343.52" width="7.55" height="5.75" fill="#cacace"/>
<rect x="103.73" y="343.52" width="7.55" height="5.75" fill="#cacace"/>
<rect x="112.42" y="343.52" width="7.55" height="5.75" fill="#cacace"/>
<rect x="121.11" y="343.52" width="7.55" height="5.75" fill="#cacace"/>
<rect x="129.80" y="343.52" width="7.55" height="5.75" fill="#cacace"/>
<rect x="138.49" y="343.52" width="7.55" height="5.75" fill="#cacace"/>
<rect x="147.18" y="343.52" width="7.55" height="5.75" fill="#cacace"/>
<rect x="155.87" y="343.52" width="7.55" height="5.75" fill="#cacace"/>
<rect x="164.56" y="343.52" width="7.55" height="5.75" fill="#aa0c36"/>
<rect x="173.25" y="343.52" width="7.55" height="5.75" fill="#cacace"/>
<rect x="181.94" y="343.52" width="7.55" height="5.75" fill="#cacace"/>
<rect x="190.63" y="343.52" width="7.55" height="5.75" fill="#cacace"/>
<rect x="199.32" y="343.52" width="7.55" height="5.75" fill="#cacace"/>
<rect x="208.01" y="343.52" width="7.55" height="5.75" fill="#cacace"/>
<text x="39.60" y="348.69" font-size="6.55" text-anchor="end" font-style="italic" fill="#000" stroke="#000" stroke-width="0.12">BRAF</text>
<rect x="217.20" y="343.52" width="4.80" height="5.75" fill="#63a1d9"/>
<text x="44.38" y="353.00" font-size="6.4" text-anchor="start" transform="rotate(90 44.38 353.00)" fill="#1a1a1a" stroke="#1a1a1a" stroke-width="0.08">ID7</text>
<text x="53.06" y="353.00" font-size="6.4" text-anchor="start" transform="rotate(90 53.06 353.00)" fill="#1a1a1a" stroke="#1a1a1a" stroke-width="0.08">ID17</text>
<text x="61.76" y="353.00" font-size="6.4" text-anchor="start" transform="rotate(90 61.76 353.00)" fill="#1a1a1a" stroke="#1a1a1a" stroke-width="0.08">ID21</text>
<text x="70.45" y="353.00" font-size="6.4" text-anchor="start" transform="rotate(90 70.45 353.00)" fill="#1a1a1a" stroke="#1a1a1a" stroke-width="0.08">ID3</text>
<text x="79.14" y="353.00" font-size="6.4" text-anchor="start" transform="rotate(90 79.14 353.00)" fill="#1a1a1a" stroke="#1a1a1a" stroke-width="0.08">ID1</text>
<text x="87.83" y="353.00" font-size="6.4" text-anchor="start" transform="rotate(90 87.83 353.00)" fill="#1a1a1a" stroke="#1a1a1a" stroke-width="0.08">ID11</text>
<text x="96.52" y="353.00" font-size="6.4" text-anchor="start" transform="rotate(90 96.52 353.00)" fill="#1a1a1a" stroke="#1a1a1a" stroke-width="0.08">ID5</text>
<text x="105.20" y="353.00" font-size="6.4" text-anchor="start" transform="rotate(90 105.20 353.00)" fill="#1a1a1a" stroke="#1a1a1a" stroke-width="0.08">ID14</text>
<text x="113.89" y="353.00" font-size="6.4" text-anchor="start" transform="rotate(90 113.89 353.00)" fill="#1a1a1a" stroke="#1a1a1a" stroke-width="0.08">ID13</text>
<text x="122.58" y="353.00" font-size="6.4" text-anchor="start" transform="rotate(90 122.58 353.00)" fill="#1a1a1a" stroke="#1a1a1a" stroke-width="0.08">ID6</text>
<text x="131.27" y="353.00" font-size="6.4" text-anchor="start" transform="rotate(90 131.27 353.00)" fill="#1a1a1a" stroke="#1a1a1a" stroke-width="0.08">ID16</text>
<text x="139.96" y="353.00" font-size="6.4" text-anchor="start" transform="rotate(90 139.96 353.00)" fill="#1a1a1a" stroke="#1a1a1a" stroke-width="0.08">ID28</text>
<text x="148.66" y="353.00" font-size="6.4" text-anchor="start" transform="rotate(90 148.66 353.00)" fill="#1a1a1a" stroke="#1a1a1a" stroke-width="0.08">ID8</text>
<text x="157.34" y="353.00" font-size="6.4" text-anchor="start" transform="rotate(90 157.34 353.00)" fill="#1a1a1a" stroke="#1a1a1a" stroke-width="0.08">ID15</text>
<text x="166.03" y="353.00" font-size="6.4" text-anchor="start" transform="rotate(90 166.03 353.00)" fill="#1a1a1a" stroke="#1a1a1a" stroke-width="0.08">ID12</text>
<text x="174.72" y="353.00" font-size="6.4" text-anchor="start" transform="rotate(90 174.72 353.00)" fill="#1a1a1a" stroke="#1a1a1a" stroke-width="0.08">ID10</text>
<text x="183.41" y="353.00" font-size="6.4" text-anchor="start" transform="rotate(90 183.41 353.00)" fill="#1a1a1a" stroke="#1a1a1a" stroke-width="0.08">ID4</text>
<text x="192.10" y="353.00" font-size="6.4" text-anchor="start" transform="rotate(90 192.10 353.00)" fill="#1a1a1a" stroke="#1a1a1a" stroke-width="0.08">ID9</text>
<text x="200.79" y="353.00" font-size="6.4" text-anchor="start" transform="rotate(90 200.79 353.00)" fill="#1a1a1a" stroke="#1a1a1a" stroke-width="0.08">ID23</text>
<text x="209.48" y="353.00" font-size="6.4" text-anchor="start" transform="rotate(90 209.48 353.00)" fill="#1a1a1a" stroke="#1a1a1a" stroke-width="0.08">ID2</text>
<line x1="216.90" y1="349.40" x2="266.30" y2="349.40" stroke="#222" stroke-width="1"/>
<line x1="217.30" y1="348.20" x2="217.30" y2="350.60" stroke="#222" stroke-width="0.9"/>
<line x1="241.30" y1="348.20" x2="241.30" y2="350.60" stroke="#222" stroke-width="0.9"/>
<line x1="265.70" y1="348.20" x2="265.70" y2="350.60" stroke="#222" stroke-width="0.9"/>
<text x="217.70" y="357.00" font-size="3.9" text-anchor="start" fill="#111" stroke="#111" stroke-width="0.22">0%</text>
<text x="241.30" y="357.00" font-size="3.9" text-anchor="middle" fill="#111" stroke="#111" stroke-width="0.22">25%</text>
<text x="265.70" y="357.00" font-size="3.9" text-anchor="middle" fill="#111" stroke="#111" stroke-width="0.22">50%</text>
<text x="228.20" y="366.30" font-size="5.7" text-anchor="start" fill="#1a1a1a" stroke="#1a1a1a" stroke-width="0.1">Frequency</text>
<text x="270.60" y="16.90" font-size="10.5" text-anchor="start" font-weight="bold" fill="#000">B</text>
<text x="288.20" y="78.80" font-size="7.7" text-anchor="start" transform="rotate(-90 288.20 78.80)" fill="#000" stroke="#000" stroke-width="0.3">N. of mutations</text>
<line x1="306.10" y1="26.26" x2="306.10" y2="77.10" stroke="#000" stroke-width="1"/>
<line x1="303.50" y1="76.70" x2="306.10" y2="76.70" stroke="#000" stroke-width="0.9"/>
<text x="301.00" y="78.60" font-size="5.3" text-anchor="end" fill="#222" stroke="#222" stroke-width="0.08">0</text>
<line x1="303.50" y1="70.72" x2="306.10" y2="70.72" stroke="#000" stroke-width="0.9"/>
<text x="301.00" y="72.62" font-size="5.3" text-anchor="end" fill="#222" stroke="#222" stroke-width="0.08">2</text>
<line x1="303.50" y1="64.74" x2="306.10" y2="64.74" stroke="#000" stroke-width="0.9"/>
<text x="301.00" y="66.64" font-size="5.3" text-anchor="end" fill="#222" stroke="#222" stroke-width="0.08">4</text>
<line x1="303.50" y1="58.76" x2="306.10" y2="58.76" stroke="#000" stroke-width="0.9"/>
<text x="301.00" y="60.66" font-size="5.3" text-anchor="end" fill="#222" stroke="#222" stroke-width="0.08">6</text>
<line x1="303.50" y1="52.78" x2="306.10" y2="52.78" stroke="#000" stroke-width="0.9"/>
<text x="301.00" y="54.68" font-size="5.3" text-anchor="end" fill="#222" stroke="#222" stroke-width="0.08">8</text>
<line x1="303.50" y1="46.80" x2="306.10" y2="46.80" stroke="#000" stroke-width="0.9"/>
<text x="301.00" y="48.70" font-size="5.3" text-anchor="end" fill="#222" stroke="#222" stroke-width="0.08">10</text>
<line x1="303.50" y1="40.82" x2="306.10" y2="40.82" stroke="#000" stroke-width="0.9"/>
<text x="301.00" y="42.72" font-size="5.3" text-anchor="end" fill="#222" stroke="#222" stroke-width="0.08">12</text>
<line x1="303.50" y1="34.84" x2="306.10" y2="34.84" stroke="#000" stroke-width="0.9"/>
<text x="301.00" y="36.74" font-size="5.3" text-anchor="end" fill="#222" stroke="#222" stroke-width="0.08">14</text>
<line x1="303.50" y1="28.86" x2="306.10" y2="28.86" stroke="#000" stroke-width="0.9"/>
<text x="301.00" y="30.76" font-size="5.3" text-anchor="end" fill="#222" stroke="#222" stroke-width="0.08">16</text>
<rect x="307.30" y="75.10" width="7.75" height="1.60" fill="#2b4b8d"/>
<rect x="307.30" y="65.80" width="7.75" height="9.30" fill="#6cad46"/>
<rect x="316.39" y="36.60" width="7.75" height="40.10" fill="#2b4b8d"/>
<rect x="316.39" y="30.00" width="7.75" height="6.60" fill="#6cad46"/>
<rect x="325.48" y="69.00" width="7.75" height="7.70" fill="#2b4b8d"/>
<rect x="334.57" y="69.20" width="7.75" height="7.50" fill="#2b4b8d"/>
<rect x="334.57" y="63.20" width="7.75" height="6.00" fill="#6cad46"/>
<rect x="334.57" y="60.00" width="7.75" height="3.20" fill="#c20e78"/>
<rect x="343.66" y="62.80" width="7.75" height="13.90" fill="#2b4b8d"/>
<rect x="352.75" y="72.00" width="7.75" height="4.70" fill="#2b4b8d"/>
<rect x="352.75" y="69.00" width="7.75" height="3.00" fill="#c20e78"/>
<rect x="361.84" y="72.00" width="7.75" height="4.70" fill="#2b4b8d"/>
<rect x="370.93" y="69.60" width="7.75" height="7.10" fill="#2b4b8d"/>
<rect x="370.93" y="66.00" width="7.75" height="3.60" fill="#b07a2e"/>
<rect x="380.02" y="69.60" width="7.75" height="7.10" fill="#2b4b8d"/>
<rect x="380.02" y="66.00" width="7.75" height="3.60" fill="#6cad46"/>
<rect x="380.02" y="60.00" width="7.75" height="6.00" fill="#c20e78"/>
<rect x="389.11" y="75.00" width="7.75" height="1.70" fill="#2b4b8d"/>
<rect x="389.11" y="71.80" width="7.75" height="3.20" fill="#c20e78"/>
<rect x="398.20" y="69.20" width="7.75" height="7.50" fill="#2b4b8d"/>
<rect x="398.20" y="64.00" width="7.75" height="5.20" fill="#6cad46"/>
<rect x="398.20" y="60.00" width="7.75" height="4.00" fill="#c20e78"/>
<rect x="407.29" y="59.90" width="7.75" height="16.80" fill="#2b4b8d"/>
<rect x="416.38" y="68.90" width="7.75" height="7.80" fill="#2b4b8d"/>
<rect x="425.47" y="74.80" width="7.75" height="1.90" fill="#2b4b8d"/>
<rect x="425.47" y="71.90" width="7.75" height="2.90" fill="#6cad46"/>
<rect x="434.56" y="75.00" width="7.75" height="1.70" fill="#2b4b8d"/>
<rect x="443.65" y="75.00" width="7.75" height="1.70" fill="#2b4b8d"/>
<rect x="307.30" y="78.30" width="7.75" height="5.60" fill="#e89f1f"/>
<rect x="316.39" y="78.30" width="7.75" height="5.60" fill="#e89f1f"/>
<rect x="325.48" y="78.30" width="7.75" height="5.60" fill="#e89f1f"/>
<rect x="334.57" y="78.30" width="7.75" height="5.60" fill="#e89f1f"/>
<rect x="343.66" y="78.30" width="7.75" height="5.60" fill="#e89f1f"/>
<rect x="352.75" y="78.30" width="7.75" height="5.60" fill="#4a1b6b"/>
<rect x="361.84" y="78.30" width="7.75" height="5.60" fill="#4a1b6b"/>
<rect x="370.93" y="78.30" width="7.75" height="5.60" fill="#4a1b6b"/>
<rect x="380.02" y="78.30" width="7.75" height="5.60" fill="#4a1b6b"/>
<rect x="389.11" y="78.30" width="7.75" height="5.60" fill="#4a1b6b"/>
<rect x="398.20" y="78.30" width="7.75" height="5.60" fill="#4a1b6b"/>
<rect x="407.29" y="78.30" width="7.75" height="5.60" fill="#4a1b6b"/>
<rect x="416.38" y="78.30" width="7.75" height="5.60" fill="#4a1b6b"/>
<rect x="425.47" y="78.30" width="7.75" height="5.60" fill="#4a1b6b"/>
<rect x="434.56" y="78.30" width="7.75" height="5.60" fill="#4a1b6b"/>
<rect x="443.65" y="78.30" width="7.75" height="5.60" fill="#4a1b6b"/>
<rect x="307.30" y="85.00" width="7.75" height="6.00" fill="#aa0c36"/>
<rect x="316.39" y="85.00" width="7.75" height="6.00" fill="#aa0c36"/>
<rect x="325.48" y="85.00" width="7.75" height="6.00" fill="#cacace"/>
<rect x="334.57" y="85.00" width="7.75" height="6.00" fill="#cacace"/>
<rect x="343.66" y="85.00" width="7.75" height="6.00" fill="#cacace"/>
<rect x="352.75" y="85.00" width="7.75" height="6.00" fill="#aa0c36"/>
<rect x="361.84" y="85.00" width="7.75" height="6.00" fill="#aa0c36"/>
<rect x="370.93" y="85.00" width="7.75" height="6.00" fill="#cacace"/>
<rect x="380.02" y="85.00" width="7.75" height="6.00" fill="#cacace"/>
<rect x="389.11" y="85.00" width="7.75" height="6.00" fill="#cacace"/>
<rect x="398.20" y="85.00" width="7.75" height="6.00" fill="#cacace"/>
<rect x="407.29" y="85.00" width="7.75" height="6.00" fill="#cacace"/>
<rect x="416.38" y="85.00" width="7.75" height="6.00" fill="#cacace"/>
<rect x="425.47" y="85.00" width="7.75" height="6.00" fill="#cacace"/>
<rect x="434.56" y="85.00" width="7.75" height="6.00" fill="#cacace"/>
<rect x="443.65" y="85.00" width="7.75" height="6.00" fill="#cacace"/>
<text x="303.40" y="90.30" font-size="6.55" text-anchor="end" font-style="italic" fill="#000" stroke="#000" stroke-width="0.12">KMT2D</text>
<rect x="453.10" y="85.00" width="28.20" height="6.00" fill="#63a1d9"/>
<rect x="307.30" y="92.22" width="7.75" height="6.00" fill="#aa0c36"/>
<rect x="316.39" y="92.22" width="7.75" height="6.00" fill="#aa0c36"/>
<rect x="325.48" y="92.22" width="7.75" height="6.00" fill="#cacace"/>
<rect x="334.57" y="92.22" width="7.75" height="6.00" fill="#cacace"/>
<rect x="343.66" y="92.22" width="7.75" height="6.00" fill="#cacace"/>
<rect x="352.75" y="92.22" width="7.75" height="6.00" fill="#aa0c36"/>
<rect x="361.84" y="92.22" width="7.75" height="6.00" fill="#cacace"/>
<rect x="370.93" y="92.22" width="7.75" height="6.00" fill="#aa0c36"/>
<rect x="380.02" y="92.22" width="7.75" height="6.00" fill="#cacace"/>
<rect x="389.11" y="92.22" width="7.75" height="6.00" fill="#cacace"/>
<rect x="398.20" y="92.22" width="7.75" height="6.00" fill="#cacace"/>
<rect x="407.29" y="92.22" width="7.75" height="6.00" fill="#cacace"/>
<rect x="416.38" y="92.22" width="7.75" height="6.00" fill="#cacace"/>
<rect x="425.47" y="92.22" width="7.75" height="6.00" fill="#cacace"/>
<rect x="434.56" y="92.22" width="7.75" height="6.00" fill="#cacace"/>
<rect x="443.65" y="92.22" width="7.75" height="6.00" fill="#cacace"/>
<text x="303.40" y="97.52" font-size="6.55" text-anchor="end" font-style="italic" fill="#000" stroke="#000" stroke-width="0.12">CREBBP</text>
<rect x="453.10" y="92.22" width="28.20" height="6.00" fill="#63a1d9"/>
<rect x="307.30" y="99.44" width="7.75" height="6.00" fill="#aa0c36"/>
<rect x="316.39" y="99.44" width="7.75" height="6.00" fill="#cacace"/>
<rect x="325.48" y="99.44" width="7.75" height="6.00" fill="#cacace"/>
<rect x="334.57" y="99.44" width="7.75" height="6.00" fill="#cacace"/>
<rect x="343.66" y="99.44" width="7.75" height="6.00" fill="#cacace"/>
<rect x="352.75" y="99.44" width="7.75" height="6.00" fill="#cacace"/>
<rect x="361.84" y="99.44" width="7.75" height="6.00" fill="#cacace"/>
<rect x="370.93" y="99.44" width="7.75" height="6.00" fill="#cacace"/>
<rect x="380.02" y="99.44" width="7.75" height="6.00" fill="#aa0c36"/>
<rect x="389.11" y="99.44" width="7.75" height="6.00" fill="#aa0c36"/>
<rect x="398.20" y="99.44" width="7.75" height="6.00" fill="#cacace"/>
<rect x="407.29" y="99.44" width="7.75" height="6.00" fill="#cacace"/>
<rect x="416.38" y="99.44" width="7.75" height="6.00" fill="#cacace"/>
<rect x="425.47" y="99.44" width="7.75" height="6.00" fill="#cacace"/>
<rect x="434.56" y="99.44" width="7.75" height="6.00" fill="#cacace"/>
<rect x="443.65" y="99.44" width="7.75" height="6.00" fill="#cacace"/>
<text x="303.40" y="104.74" font-size="6.55" text-anchor="end" font-style="italic" fill="#000" stroke="#000" stroke-width="0.12">STAT6</text>
<rect x="453.10" y="99.44" width="21.15" height="6.00" fill="#63a1d9"/>
<rect x="307.30" y="106.66" width="7.75" height="6.00" fill="#cacace"/>
<rect x="316.39" y="106.66" width="7.75" height="6.00" fill="#aa0c36"/>
<rect x="325.48" y="106.66" width="7.75" height="6.00" fill="#cacace"/>
<rect x="334.57" y="106.66" width="7.75" height="6.00" fill="#aa0c36"/>
<rect x="343.66" y="106.66" width="7.75" height="6.00" fill="#cacace"/>
<rect x="352.75" y="106.66" width="7.75" height="6.00" fill="#cacace"/>
<rect x="361.84" y="106.66" width="7.75" height="6.00" fill="#cacace"/>
<rect x="370.93" y="106.66" width="7.75" height="6.00" fill="#aa0c36"/>
<rect x="380.02" y="106.66" width="7.75" height="6.00" fill="#cacace"/>
<rect x="389.11" y="106.66" width="7.75" height="6.00" fill="#cacace"/>
<rect x="398.20" y="106.66" width="7.75" height="6.00" fill="#cacace"/>
<rect x="407.29" y="106.66" width="7.75" height="6.00" fill="#cacace"/>
<rect x="416.38" y="106.66" width="7.75" height="6.00" fill="#cacace"/>
<rect x="425.47" y="106.66" width="7.75" height="6.00" fill="#cacace"/>
<rect x="434.56" y="106.66" width="7.75" height="6.00" fill="#cacace"/>
<rect x="443.65" y="106.66" width="7.75" height="6.00" fill="#cacace"/>
<text x="303.40" y="111.96" font-size="6.55" text-anchor="end" font-style="italic" fill="#000" stroke="#000" stroke-width="0.12">TNFRSF14</text>
<rect x="453.10" y="106.66" width="21.15" height="6.00" fill="#63a1d9"/>
<rect x="307.30" y="113.88" width="7.75" height="6.00" fill="#cacace"/>
<rect x="316.39" y="113.88" width="7.75" height="6.00" fill="#cacace"/>
<rect x="325.48" y="113.88" width="7.75" height="6.00" fill="#aa0c36"/>
<rect x="334.57" y="113.88" width="7.75" height="6.00" fill="#cacace"/>
<rect x="343.66" y="113.88" width="7.75" height="6.00" fill="#cacace"/>
<rect x="352.75" y="113.88" width="7.75" height="6.00" fill="#aa0c36"/>
<rect x="361.84" y="113.88" width="7.75" height="6.00" fill="#cacace"/>
<rect x="370.93" y="113.88" width="7.75" height="6.00" fill="#cacace"/>
<rect x="380.02" y="113.88" width="7.75" height="6.00" fill="#cacace"/>
<rect x="389.11" y="113.88" width="7.75" height="6.00" fill="#cacace"/>
<rect x="398.20" y="113.88" width="7.75" height="6.00" fill="#aa0c36"/>
<rect x="407.29" y="113.88" width="7.75" height="6.00" fill="#cacace"/>
<rect x="416.38" y="113.88" width="7.75" height="6.00" fill="#cacace"/>
<rect x="425.47" y="113.88" width="7.75" height="6.00" fill="#cacace"/>
<rect x="434.56" y="113.88" width="7.75" height="6.00" fill="#cacace"/>
<rect x="443.65" y="113.88" width="7.75" height="6.00" fill="#cacace"/>
<text x="303.40" y="119.18" font-size="6.55" text-anchor="end" font-style="italic" fill="#000" stroke="#000" stroke-width="0.12">GNA13</text>
<rect x="453.10" y="113.88" width="21.15" height="6.00" fill="#63a1d9"/>
<rect x="307.30" y="121.10" width="7.75" height="6.00" fill="#cacace"/>
<rect x="316.39" y="121.10" width="7.75" height="6.00" fill="#aa0c36"/>
<rect x="325.48" y="121.10" width="7.75" height="6.00" fill="#cacace"/>
<rect x="334.57" y="121.10" width="7.75" height="6.00" fill="#cacace"/>
<rect x="343.66" y="121.10" width="7.75" height="6.00" fill="#cacace"/>
<rect x="352.75" y="121.10" width="7.75" height="6.00" fill="#cacace"/>
<rect x="361.84" y="121.10" width="7.75" height="6.00" fill="#cacace"/>
<rect x="370.93" y="121.10" width="7.75" height="6.00" fill="#aa0c36"/>
<rect x="380.02" y="121.10" width="7.75" height="6.00" fill="#cacace"/>
<rect x="389.11" y="121.10" width="7.75" height="6.00" fill="#cacace"/>
<rect x="398.20" y="121.10" width="7.75" height="6.00" fill="#aa0c36"/>
<rect x="407.29" y="121.10" width="7.75" height="6.00" fill="#cacace"/>
<rect x="416.38" y="121.10" width="7.75" height="6.00" fill="#cacace"/>
<rect x="425.47" y="121.10" width="7.75" height="6.00" fill="#cacace"/>
<rect x="434.56" y="121.10" width="7.75" height="6.00" fill="#cacace"/>
<rect x="443.65" y="121.10" width="7.75" height="6.00" fill="#cacace"/>
<text x="303.40" y="126.40" font-size="6.55" text-anchor="end" font-style="italic" fill="#000" stroke="#000" stroke-width="0.12">EZH2</text>
<rect x="453.10" y="121.10" width="21.15" height="6.00" fill="#63a1d9"/>
<rect x="307.30" y="128.32" width="7.75" height="6.00" fill="#cacace"/>
<rect x="316.39" y="128.32" width="7.75" height="6.00" fill="#aa0c36"/>
<rect x="325.48" y="128.32" width="7.75" height="6.00" fill="#aa0c36"/>
<rect x="334.57" y="128.32" width="7.75" height="6.00" fill="#cacace"/>
<rect x="343.66" y="128.32" width="7.75" height="6.00" fill="#cacace"/>
<rect x="352.75" y="128.32" width="7.75" height="6.00" fill="#cacace"/>
<rect x="361.84" y="128.32" width="7.75" height="6.00" fill="#cacace"/>
<rect x="370.93" y="128.32" width="7.75" height="6.00" fill="#aa0c36"/>
<rect x="380.02" y="128.32" width="7.75" height="6.00" fill="#cacace"/>
<rect x="389.11" y="128.32" width="7.75" height="6.00" fill="#cacace"/>
<rect x="398.20" y="128.32" width="7.75" height="6.00" fill="#cacace"/>
<rect x="407.29" y="128.32" width="7.75" height="6.00" fill="#cacace"/>
<rect x="416.38" y="128.32" width="7.75" height="6.00" fill="#cacace"/>
<rect x="425.47" y="128.32" width="7.75" height="6.00" fill="#cacace"/>
<rect x="434.56" y="128.32" width="7.75" height="6.00" fill="#cacace"/>
<rect x="443.65" y="128.32" width="7.75" height="6.00" fill="#cacace"/>
<text x="303.40" y="133.62" font-size="6.55" text-anchor="end" font-style="italic" fill="#000" stroke="#000" stroke-width="0.12">BCL2</text>
<rect x="453.10" y="128.32" width="21.15" height="6.00" fill="#63a1d9"/>
<rect x="307.30" y="135.54" width="7.75" height="6.00" fill="#cacace"/>
<rect x="316.39" y="135.54" width="7.75" height="6.00" fill="#cacace"/>
<rect x="325.48" y="135.54" width="7.75" height="6.00" fill="#aa0c36"/>
<rect x="334.57" y="135.54" width="7.75" height="6.00" fill="#cacace"/>
<rect x="343.66" y="135.54" width="7.75" height="6.00" fill="#cacace"/>
<rect x="352.75" y="135.54" width="7.75" height="6.00" fill="#cacace"/>
<rect x="361.84" y="135.54" width="7.75" height="6.00" fill="#cacace"/>
<rect x="370.93" y="135.54" width="7.75" height="6.00" fill="#cacace"/>
<rect x="380.02" y="135.54" width="7.75" height="6.00" fill="#aa0c36"/>
<rect x="389.11" y="135.54" width="7.75" height="6.00" fill="#cacace"/>
<rect x="398.20" y="135.54" width="7.75" height="6.00" fill="#cacace"/>
<rect x="407.29" y="135.54" width="7.75" height="6.00" fill="#cacace"/>
<rect x="416.38" y="135.54" width="7.75" height="6.00" fill="#cacace"/>
<rect x="425.47" y="135.54" width="7.75" height="6.00" fill="#cacace"/>
<rect x="434.56" y="135.54" width="7.75" height="6.00" fill="#cacace"/>
<rect x="443.65" y="135.54" width="7.75" height="6.00" fill="#cacace"/>
<text x="303.40" y="140.84" font-size="6.55" text-anchor="end" font-style="italic" fill="#000" stroke="#000" stroke-width="0.12">TP53</text>
<rect x="453.10" y="135.54" width="14.10" height="6.00" fill="#63a1d9"/>
<rect x="307.30" y="142.76" width="7.75" height="6.00" fill="#cacace"/>
<rect x="316.39" y="142.76" width="7.75" height="6.00" fill="#cacace"/>
<rect x="325.48" y="142.76" width="7.75" height="6.00" fill="#cacace"/>
<rect x="334.57" y="142.76" width="7.75" height="6.00" fill="#cacace"/>
<rect x="343.66" y="142.76" width="7.75" height="6.00" fill="#cacace"/>
<rect x="352.75" y="142.76" width="7.75" height="6.00" fill="#cacace"/>
<rect x="361.84" y="142.76" width="7.75" height="6.00" fill="#cacace"/>
<rect x="370.93" y="142.76" width="7.75" height="6.00" fill="#cacace"/>
<rect x="380.02" y="142.76" width="7.75" height="6.00" fill="#aa0c36"/>
<rect x="389.11" y="142.76" width="7.75" height="6.00" fill="#cacace"/>
<rect x="398.20" y="142.76" width="7.75" height="6.00" fill="#aa0c36"/>
<rect x="407.29" y="142.76" width="7.75" height="6.00" fill="#cacace"/>
<rect x="416.38" y="142.76" width="7.75" height="6.00" fill="#cacace"/>
<rect x="425.47" y="142.76" width="7.75" height="6.00" fill="#cacace"/>
<rect x="434.56" y="142.76" width="7.75" height="6.00" fill="#cacace"/>
<rect x="443.65" y="142.76" width="7.75" height="6.00" fill="#cacace"/>
<text x="303.40" y="148.06" font-size="6.55" text-anchor="end" font-style="italic" fill="#000" stroke="#000" stroke-width="0.12">TNFAIP3</text>
<rect x="453.10" y="142.76" width="14.10" height="6.00" fill="#63a1d9"/>
<rect x="307.30" y="149.98" width="7.75" height="6.00" fill="#cacace"/>
<rect x="316.39" y="149.98" width="7.75" height="6.00" fill="#cacace"/>
<rect x="325.48" y="149.98" width="7.75" height="6.00" fill="#cacace"/>
<rect x="334.57" y="149.98" width="7.75" height="6.00" fill="#aa0c36"/>
<rect x="343.66" y="149.98" width="7.75" height="6.00" fill="#cacace"/>
<rect x="352.75" y="149.98" width="7.75" height="6.00" fill="#cacace"/>
<rect x="361.84" y="149.98" width="7.75" height="6.00" fill="#cacace"/>
<rect x="370.93" y="149.98" width="7.75" height="6.00" fill="#cacace"/>
<rect x="380.02" y="149.98" width="7.75" height="6.00" fill="#cacace"/>
<rect x="389.11" y="149.98" width="7.75" height="6.00" fill="#cacace"/>
<rect x="398.20" y="149.98" width="7.75" height="6.00" fill="#cacace"/>
<rect x="407.29" y="149.98" width="7.75" height="6.00" fill="#aa0c36"/>
<rect x="416.38" y="149.98" width="7.75" height="6.00" fill="#cacace"/>
<rect x="425.47" y="149.98" width="7.75" height="6.00" fill="#cacace"/>
<rect x="434.56" y="149.98" width="7.75" height="6.00" fill="#cacace"/>
<rect x="443.65" y="149.98" width="7.75" height="6.00" fill="#cacace"/>
<text x="303.40" y="155.28" font-size="6.55" text-anchor="end" font-style="italic" fill="#000" stroke="#000" stroke-width="0.12">MYD88</text>
<rect x="453.10" y="149.98" width="14.10" height="6.00" fill="#63a1d9"/>
<rect x="307.30" y="157.20" width="7.75" height="6.00" fill="#cacace"/>
<rect x="316.39" y="157.20" width="7.75" height="6.00" fill="#cacace"/>
<rect x="325.48" y="157.20" width="7.75" height="6.00" fill="#cacace"/>
<rect x="334.57" y="157.20" width="7.75" height="6.00" fill="#cacace"/>
<rect x="343.66" y="157.20" width="7.75" height="6.00" fill="#aa0c36"/>
<rect x="352.75" y="157.20" width="7.75" height="6.00" fill="#cacace"/>
<rect x="361.84" y="157.20" width="7.75" height="6.00" fill="#cacace"/>
<rect x="370.93" y="157.20" width="7.75" height="6.00" fill="#cacace"/>
<rect x="380.02" y="157.20" width="7.75" height="6.00" fill="#cacace"/>
<rect x="389.11" y="157.20" width="7.75" height="6.00" fill="#cacace"/>
<rect x="398.20" y="157.20" width="7.75" height="6.00" fill="#cacace"/>
<rect x="407.29" y="157.20" width="7.75" height="6.00" fill="#cacace"/>
<rect x="416.38" y="157.20" width="7.75" height="6.00" fill="#cacace"/>
<rect x="425.47" y="157.20" width="7.75" height="6.00" fill="#aa0c36"/>
<rect x="434.56" y="157.20" width="7.75" height="6.00" fill="#cacace"/>
<rect x="443.65" y="157.20" width="7.75" height="6.00" fill="#cacace"/>
<text x="303.40" y="162.50" font-size="6.55" text-anchor="end" font-style="italic" fill="#000" stroke="#000" stroke-width="0.12">MYC</text>
<rect x="453.10" y="157.20" width="14.10" height="6.00" fill="#63a1d9"/>
<rect x="307.30" y="164.42" width="7.75" height="6.00" fill="#cacace"/>
<rect x="316.39" y="164.42" width="7.75" height="6.00" fill="#cacace"/>
<rect x="325.48" y="164.42" width="7.75" height="6.00" fill="#cacace"/>
<rect x="334.57" y="164.42" width="7.75" height="6.00" fill="#cacace"/>
<rect x="343.66" y="164.42" width="7.75" height="6.00" fill="#cacace"/>
<rect x="352.75" y="164.42" width="7.75" height="6.00" fill="#cacace"/>
<rect x="361.84" y="164.42" width="7.75" height="6.00" fill="#cacace"/>
<rect x="370.93" y="164.42" width="7.75" height="6.00" fill="#cacace"/>
<rect x="380.02" y="164.42" width="7.75" height="6.00" fill="#aa0c36"/>
<rect x="389.11" y="164.42" width="7.75" height="6.00" fill="#cacace"/>
<rect x="398.20" y="164.42" width="7.75" height="6.00" fill="#cacace"/>
<rect x="407.29" y="164.42" width="7.75" height="6.00" fill="#cacace"/>
<rect x="416.38" y="164.42" width="7.75" height="6.00" fill="#cacace"/>
<rect x="425.47" y="164.42" width="7.75" height="6.00" fill="#aa0c36"/>
<rect x="434.56" y="164.42" width="7.75" height="6.00" fill="#cacace"/>
<rect x="443.65" y="164.42" width="7.75" height="6.00" fill="#cacace"/>
<text x="303.40" y="169.72" font-size="6.55" text-anchor="end" font-style="italic" fill="#000" stroke="#000" stroke-width="0.12">ITPKB</text>
<rect x="453.10" y="164.42" width="14.10" height="6.00" fill="#63a1d9"/>
<rect x="307.30" y="171.64" width="7.75" height="6.00" fill="#cacace"/>
<rect x="316.39" y="171.64" width="7.75" height="6.00" fill="#cacace"/>
<rect x="325.48" y="171.64" width="7.75" height="6.00" fill="#cacace"/>
<rect x="334.57" y="171.64" width="7.75" height="6.00" fill="#cacace"/>
<rect x="343.66" y="171.64" width="7.75" height="6.00" fill="#aa0c36"/>
<rect x="352.75" y="171.64" width="7.75" height="6.00" fill="#cacace"/>
<rect x="361.84" y="171.64" width="7.75" height="6.00" fill="#cacace"/>
<rect x="370.93" y="171.64" width="7.75" height="6.00" fill="#cacace"/>
<rect x="380.02" y="171.64" width="7.75" height="6.00" fill="#cacace"/>
<rect x="389.11" y="171.64" width="7.75" height="6.00" fill="#cacace"/>
<rect x="398.20" y="171.64" width="7.75" height="6.00" fill="#cacace"/>
<rect x="407.29" y="171.64" width="7.75" height="6.00" fill="#cacace"/>
<rect x="416.38" y="171.64" width="7.75" height="6.00" fill="#aa0c36"/>
<rect x="425.47" y="171.64" width="7.75" height="6.00" fill="#cacace"/>
<rect x="434.56" y="171.64" width="7.75" height="6.00" fill="#cacace"/>
<rect x="443.65" y="171.64" width="7.75" height="6.00" fill="#cacace"/>
<text x="303.40" y="176.94" font-size="6.55" text-anchor="end" font-style="italic" fill="#000" stroke="#000" stroke-width="0.12">HIST1H1E</text>
<rect x="453.10" y="171.64" width="14.10" height="6.00" fill="#63a1d9"/>
<rect x="307.30" y="178.86" width="7.75" height="6.00" fill="#cacace"/>
<rect x="316.39" y="178.86" width="7.75" height="6.00" fill="#cacace"/>
<rect x="325.48" y="178.86" width="7.75" height="6.00" fill="#cacace"/>
<rect x="334.57" y="178.86" width="7.75" height="6.00" fill="#cacace"/>
<rect x="343.66" y="178.86" width="7.75" height="6.00" fill="#cacace"/>
<rect x="352.75" y="178.86" width="7.75" height="6.00" fill="#cacace"/>
<rect x="361.84" y="178.86" width="7.75" height="6.00" fill="#cacace"/>
<rect x="370.93" y="178.86" width="7.75" height="6.00" fill="#cacace"/>
<rect x="380.02" y="178.86" width="7.75" height="6.00" fill="#cacace"/>
<rect x="389.11" y="178.86" width="7.75" height="6.00" fill="#cacace"/>
<rect x="398.20" y="178.86" width="7.75" height="6.00" fill="#cacace"/>
<rect x="407.29" y="178.86" width="7.75" height="6.00" fill="#aa0c36"/>
<rect x="416.38" y="178.86" width="7.75" height="6.00" fill="#aa0c36"/>
<rect x="425.47" y="178.86" width="7.75" height="6.00" fill="#cacace"/>
<rect x="434.56" y="178.86" width="7.75" height="6.00" fill="#cacace"/>
<rect x="443.65" y="178.86" width="7.75" height="6.00" fill="#cacace"/>
<text x="303.40" y="184.16" font-size="6.55" text-anchor="end" font-style="italic" fill="#000" stroke="#000" stroke-width="0.12">CD79B</text>
<rect x="453.10" y="178.86" width="14.10" height="6.00" fill="#63a1d9"/>
<rect x="307.30" y="186.08" width="7.75" height="6.00" fill="#cacace"/>
<rect x="316.39" y="186.08" width="7.75" height="6.00" fill="#aa0c36"/>
<rect x="325.48" y="186.08" width="7.75" height="6.00" fill="#cacace"/>
<rect x="334.57" y="186.08" width="7.75" height="6.00" fill="#cacace"/>
<rect x="343.66" y="186.08" width="7.75" height="6.00" fill="#cacace"/>
<rect x="352.75" y="186.08" width="7.75" height="6.00" fill="#cacace"/>
<rect x="361.84" y="186.08" width="7.75" height="6.00" fill="#cacace"/>
<rect x="370.93" y="186.08" width="7.75" height="6.00" fill="#cacace"/>
<rect x="380.02" y="186.08" width="7.75" height="6.00" fill="#cacace"/>
<rect x="389.11" y="186.08" width="7.75" height="6.00" fill="#cacace"/>
<rect x="398.20" y="186.08" width="7.75" height="6.00" fill="#cacace"/>
<rect x="407.29" y="186.08" width="7.75" height="6.00" fill="#cacace"/>
<rect x="416.38" y="186.08" width="7.75" height="6.00" fill="#cacace"/>
<rect x="425.47" y="186.08" width="7.75" height="6.00" fill="#cacace"/>
<rect x="434.56" y="186.08" width="7.75" height="6.00" fill="#cacace"/>
<rect x="443.65" y="186.08" width="7.75" height="6.00" fill="#cacace"/>
<text x="303.40" y="191.38" font-size="6.55" text-anchor="end" font-style="italic" fill="#000" stroke="#000" stroke-width="0.12">TBL1XR1</text>
<rect x="453.10" y="186.08" width="7.05" height="6.00" fill="#63a1d9"/>
<rect x="307.30" y="193.30" width="7.75" height="6.00" fill="#cacace"/>
<rect x="316.39" y="193.30" width="7.75" height="6.00" fill="#cacace"/>
<rect x="325.48" y="193.30" width="7.75" height="6.00" fill="#cacace"/>
<rect x="334.57" y="193.30" width="7.75" height="6.00" fill="#cacace"/>
<rect x="343.66" y="193.30" width="7.75" height="6.00" fill="#cacace"/>
<rect x="352.75" y="193.30" width="7.75" height="6.00" fill="#cacace"/>
<rect x="361.84" y="193.30" width="7.75" height="6.00" fill="#cacace"/>
<rect x="370.93" y="193.30" width="7.75" height="6.00" fill="#cacace"/>
<rect x="380.02" y="193.30" width="7.75" height="6.00" fill="#cacace"/>
<rect x="389.11" y="193.30" width="7.75" height="6.00" fill="#cacace"/>
<rect x="398.20" y="193.30" width="7.75" height="6.00" fill="#cacace"/>
<rect x="407.29" y="193.30" width="7.75" height="6.00" fill="#cacace"/>
<rect x="416.38" y="193.30" width="7.75" height="6.00" fill="#cacace"/>
<rect x="425.47" y="193.30" width="7.75" height="6.00" fill="#cacace"/>
<rect x="434.56" y="193.30" width="7.75" height="6.00" fill="#aa0c36"/>
<rect x="443.65" y="193.30" width="7.75" height="6.00" fill="#cacace"/>
<text x="303.40" y="198.60" font-size="6.55" text-anchor="end" font-style="italic" fill="#000" stroke="#000" stroke-width="0.12">NOTCH1</text>
<rect x="453.10" y="193.30" width="7.05" height="6.00" fill="#63a1d9"/>
<rect x="307.30" y="200.52" width="7.75" height="6.00" fill="#cacace"/>
<rect x="316.39" y="200.52" width="7.75" height="6.00" fill="#cacace"/>
<rect x="325.48" y="200.52" width="7.75" height="6.00" fill="#cacace"/>
<rect x="334.57" y="200.52" width="7.75" height="6.00" fill="#cacace"/>
<rect x="343.66" y="200.52" width="7.75" height="6.00" fill="#cacace"/>
<rect x="352.75" y="200.52" width="7.75" height="6.00" fill="#cacace"/>
<rect x="361.84" y="200.52" width="7.75" height="6.00" fill="#cacace"/>
<rect x="370.93" y="200.52" width="7.75" height="6.00" fill="#cacace"/>
<rect x="380.02" y="200.52" width="7.75" height="6.00" fill="#cacace"/>
<rect x="389.11" y="200.52" width="7.75" height="6.00" fill="#cacace"/>
<rect x="398.20" y="200.52" width="7.75" height="6.00" fill="#cacace"/>
<rect x="407.29" y="200.52" width="7.75" height="6.00" fill="#cacace"/>
<rect x="416.38" y="200.52" width="7.75" height="6.00" fill="#cacace"/>
<rect x="425.47" y="200.52" width="7.75" height="6.00" fill="#cacace"/>
<rect x="434.56" y="200.52" width="7.75" height="6.00" fill="#cacace"/>
<rect x="443.65" y="200.52" width="7.75" height="6.00" fill="#aa0c36"/>
<text x="303.40" y="205.82" font-size="6.55" text-anchor="end" font-style="italic" fill="#000" stroke="#000" stroke-width="0.12">EP300</text>
<rect x="453.10" y="200.52" width="7.05" height="6.00" fill="#63a1d9"/>
<rect x="307.30" y="207.74" width="7.75" height="6.00" fill="#cacace"/>
<rect x="316.39" y="207.74" width="7.75" height="6.00" fill="#cacace"/>
<rect x="325.48" y="207.74" width="7.75" height="6.00" fill="#cacace"/>
<rect x="334.57" y="207.74" width="7.75" height="6.00" fill="#cacace"/>
<rect x="343.66" y="207.74" width="7.75" height="6.00" fill="#cacace"/>
<rect x="352.75" y="207.74" width="7.75" height="6.00" fill="#cacace"/>
<rect x="361.84" y="207.74" width="7.75" height="6.00" fill="#cacace"/>
<rect x="370.93" y="207.74" width="7.75" height="6.00" fill="#cacace"/>
<rect x="380.02" y="207.74" width="7.75" height="6.00" fill="#cacace"/>
<rect x="389.11" y="207.74" width="7.75" height="6.00" fill="#cacace"/>
<rect x="398.20" y="207.74" width="7.75" height="6.00" fill="#aa0c36"/>
<rect x="407.29" y="207.74" width="7.75" height="6.00" fill="#cacace"/>
<rect x="416.38" y="207.74" width="7.75" height="6.00" fill="#cacace"/>
<rect x="425.47" y="207.74" width="7.75" height="6.00" fill="#cacace"/>
<rect x="434.56" y="207.74" width="7.75" height="6.00" fill="#cacace"/>
<rect x="443.65" y="207.74" width="7.75" height="6.00" fill="#cacace"/>
<text x="303.40" y="213.04" font-size="6.55" text-anchor="end" font-style="italic" fill="#000" stroke="#000" stroke-width="0.12">SPEN</text>
<rect x="453.10" y="207.74" width="7.05" height="6.00" fill="#63a1d9"/>
<rect x="307.30" y="214.96" width="7.75" height="6.00" fill="#cacace"/>
<rect x="316.39" y="214.96" width="7.75" height="6.00" fill="#cacace"/>
<rect x="325.48" y="214.96" width="7.75" height="6.00" fill="#cacace"/>
<rect x="334.57" y="214.96" width="7.75" height="6.00" fill="#cacace"/>
<rect x="343.66" y="214.96" width="7.75" height="6.00" fill="#aa0c36"/>
<rect x="352.75" y="214.96" width="7.75" height="6.00" fill="#cacace"/>
<rect x="361.84" y="214.96" width="7.75" height="6.00" fill="#cacace"/>
<rect x="370.93" y="214.96" width="7.75" height="6.00" fill="#cacace"/>
<rect x="380.02" y="214.96" width="7.75" height="6.00" fill="#cacace"/>
<rect x="389.11" y="214.96" width="7.75" height="6.00" fill="#cacace"/>
<rect x="398.20" y="214.96" width="7.75" height="6.00" fill="#cacace"/>
<rect x="407.29" y="214.96" width="7.75" height="6.00" fill="#cacace"/>
<rect x="416.38" y="214.96" width="7.75" height="6.00" fill="#cacace"/>
<rect x="425.47" y="214.96" width="7.75" height="6.00" fill="#cacace"/>
<rect x="434.56" y="214.96" width="7.75" height="6.00" fill="#cacace"/>
<rect x="443.65" y="214.96" width="7.75" height="6.00" fill="#cacace"/>
<text x="303.40" y="220.26" font-size="6.55" text-anchor="end" font-style="italic" fill="#000" stroke="#000" stroke-width="0.12">ZMYM3</text>
<rect x="453.10" y="214.96" width="7.05" height="6.00" fill="#63a1d9"/>
<rect x="307.30" y="222.18" width="7.75" height="6.00" fill="#cacace"/>
<rect x="316.39" y="222.18" width="7.75" height="6.00" fill="#cacace"/>
<rect x="325.48" y="222.18" width="7.75" height="6.00" fill="#cacace"/>
<rect x="334.57" y="222.18" width="7.75" height="6.00" fill="#cacace"/>
<rect x="343.66" y="222.18" width="7.75" height="6.00" fill="#cacace"/>
<rect x="352.75" y="222.18" width="7.75" height="6.00" fill="#cacace"/>
<rect x="361.84" y="222.18" width="7.75" height="6.00" fill="#cacace"/>
<rect x="370.93" y="222.18" width="7.75" height="6.00" fill="#cacace"/>
<rect x="380.02" y="222.18" width="7.75" height="6.00" fill="#cacace"/>
<rect x="389.11" y="222.18" width="7.75" height="6.00" fill="#cacace"/>
<rect x="398.20" y="222.18" width="7.75" height="6.00" fill="#cacace"/>
<rect x="407.29" y="222.18" width="7.75" height="6.00" fill="#aa0c36"/>
<rect x="416.38" y="222.18" width="7.75" height="6.00" fill="#cacace"/>
<rect x="425.47" y="222.18" width="7.75" height="6.00" fill="#cacace"/>
<rect x="434.56" y="222.18" width="7.75" height="6.00" fill="#cacace"/>
<rect x="443.65" y="222.18" width="7.75" height="6.00" fill="#cacace"/>
<text x="303.40" y="227.48" font-size="6.55" text-anchor="end" font-style="italic" fill="#000" stroke="#000" stroke-width="0.12">PIM1</text>
<rect x="453.10" y="222.18" width="7.05" height="6.00" fill="#63a1d9"/>
<rect x="307.30" y="229.40" width="7.75" height="6.00" fill="#cacace"/>
<rect x="316.39" y="229.40" width="7.75" height="6.00" fill="#cacace"/>
<rect x="325.48" y="229.40" width="7.75" height="6.00" fill="#cacace"/>
<rect x="334.57" y="229.40" width="7.75" height="6.00" fill="#aa0c36"/>
<rect x="343.66" y="229.40" width="7.75" height="6.00" fill="#cacace"/>
<rect x="352.75" y="229.40" width="7.75" height="6.00" fill="#cacace"/>
<rect x="361.84" y="229.40" width="7.75" height="6.00" fill="#cacace"/>
<rect x="370.93" y="229.40" width="7.75" height="6.00" fill="#cacace"/>
<rect x="380.02" y="229.40" width="7.75" height="6.00" fill="#cacace"/>
<rect x="389.11" y="229.40" width="7.75" height="6.00" fill="#cacace"/>
<rect x="398.20" y="229.40" width="7.75" height="6.00" fill="#cacace"/>
<rect x="407.29" y="229.40" width="7.75" height="6.00" fill="#cacace"/>
<rect x="416.38" y="229.40" width="7.75" height="6.00" fill="#cacace"/>
<rect x="425.47" y="229.40" width="7.75" height="6.00" fill="#cacace"/>
<rect x="434.56" y="229.40" width="7.75" height="6.00" fill="#cacace"/>
<rect x="443.65" y="229.40" width="7.75" height="6.00" fill="#cacace"/>
<text x="303.40" y="234.70" font-size="6.55" text-anchor="end" font-style="italic" fill="#000" stroke="#000" stroke-width="0.12">NOTCH2</text>
<rect x="453.10" y="229.40" width="7.05" height="6.00" fill="#63a1d9"/>
<rect x="307.30" y="236.62" width="7.75" height="6.00" fill="#cacace"/>
<rect x="316.39" y="236.62" width="7.75" height="6.00" fill="#cacace"/>
<rect x="325.48" y="236.62" width="7.75" height="6.00" fill="#cacace"/>
<rect x="334.57" y="236.62" width="7.75" height="6.00" fill="#aa0c36"/>
<rect x="343.66" y="236.62" width="7.75" height="6.00" fill="#cacace"/>
<rect x="352.75" y="236.62" width="7.75" height="6.00" fill="#cacace"/>
<rect x="361.84" y="236.62" width="7.75" height="6.00" fill="#cacace"/>
<rect x="370.93" y="236.62" width="7.75" height="6.00" fill="#cacace"/>
<rect x="380.02" y="236.62" width="7.75" height="6.00" fill="#cacace"/>
<rect x="389.11" y="236.62" width="7.75" height="6.00" fill="#cacace"/>
<rect x="398.20" y="236.62" width="7.75" height="6.00" fill="#cacace"/>
<rect x="407.29" y="236.62" width="7.75" height="6.00" fill="#cacace"/>
<rect x="416.38" y="236.62" width="7.75" height="6.00" fill="#cacace"/>
<rect x="425.47" y="236.62" width="7.75" height="6.00" fill="#cacace"/>
<rect x="434.56" y="236.62" width="7.75" height="6.00" fill="#cacace"/>
<rect x="443.65" y="236.62" width="7.75" height="6.00" fill="#cacace"/>
<text x="303.40" y="241.92" font-size="6.55" text-anchor="end" font-style="italic" fill="#000" stroke="#000" stroke-width="0.12">KRAS</text>
<rect x="453.10" y="236.62" width="7.05" height="6.00" fill="#63a1d9"/>
<rect x="307.30" y="243.84" width="7.75" height="6.00" fill="#cacace"/>
<rect x="316.39" y="243.84" width="7.75" height="6.00" fill="#cacace"/>
<rect x="325.48" y="243.84" width="7.75" height="6.00" fill="#cacace"/>
<rect x="334.57" y="243.84" width="7.75" height="6.00" fill="#cacace"/>
<rect x="343.66" y="243.84" width="7.75" height="6.00" fill="#cacace"/>
<rect x="352.75" y="243.84" width="7.75" height="6.00" fill="#cacace"/>
<rect x="361.84" y="243.84" width="7.75" height="6.00" fill="#cacace"/>
<rect x="370.93" y="243.84" width="7.75" height="6.00" fill="#cacace"/>
<rect x="380.02" y="243.84" width="7.75" height="6.00" fill="#cacace"/>
<rect x="389.11" y="243.84" width="7.75" height="6.00" fill="#cacace"/>
<rect x="398.20" y="243.84" width="7.75" height="6.00" fill="#cacace"/>
<rect x="407.29" y="243.84" width="7.75" height="6.00" fill="#cacace"/>
<rect x="416.38" y="243.84" width="7.75" height="6.00" fill="#aa0c36"/>
<rect x="425.47" y="243.84" width="7.75" height="6.00" fill="#cacace"/>
<rect x="434.56" y="243.84" width="7.75" height="6.00" fill="#cacace"/>
<rect x="443.65" y="243.84" width="7.75" height="6.00" fill="#cacace"/>
<text x="303.40" y="249.14" font-size="6.55" text-anchor="end" font-style="italic" fill="#000" stroke="#000" stroke-width="0.12">MEF2B</text>
<rect x="453.10" y="243.84" width="7.05" height="6.00" fill="#63a1d9"/>
<rect x="307.30" y="251.06" width="7.75" height="6.00" fill="#cacace"/>
<rect x="316.39" y="251.06" width="7.75" height="6.00" fill="#cacace"/>
<rect x="325.48" y="251.06" width="7.75" height="6.00" fill="#cacace"/>
<rect x="334.57" y="251.06" width="7.75" height="6.00" fill="#aa0c36"/>
<rect x="343.66" y="251.06" width="7.75" height="6.00" fill="#cacace"/>
<rect x="352.75" y="251.06" width="7.75" height="6.00" fill="#cacace"/>
<rect x="361.84" y="251.06" width="7.75" height="6.00" fill="#cacace"/>
<rect x="370.93" y="251.06" width="7.75" height="6.00" fill="#cacace"/>
<rect x="380.02" y="251.06" width="7.75" height="6.00" fill="#cacace"/>
<rect x="389.11" y="251.06" width="7.75" height="6.00" fill="#cacace"/>
<rect x="398.20" y="251.06" width="7.75" height="6.00" fill="#cacace"/>
<rect x="407.29" y="251.06" width="7.75" height="6.00" fill="#cacace"/>
<rect x="416.38" y="251.06" width="7.75" height="6.00" fill="#cacace"/>
<rect x="425.47" y="251.06" width="7.75" height="6.00" fill="#cacace"/>
<rect x="434.56" y="251.06" width="7.75" height="6.00" fill="#cacace"/>
<rect x="443.65" y="251.06" width="7.75" height="6.00" fill="#cacace"/>
<text x="303.40" y="256.36" font-size="6.55" text-anchor="end" font-style="italic" fill="#000" stroke="#000" stroke-width="0.12">CD58</text>
<rect x="453.10" y="251.06" width="7.05" height="6.00" fill="#63a1d9"/>
<rect x="307.30" y="258.28" width="7.75" height="6.00" fill="#cacace"/>
<rect x="316.39" y="258.28" width="7.75" height="6.00" fill="#cacace"/>
<rect x="325.48" y="258.28" width="7.75" height="6.00" fill="#cacace"/>
<rect x="334.57" y="258.28" width="7.75" height="6.00" fill="#cacace"/>
<rect x="343.66" y="258.28" width="7.75" height="6.00" fill="#cacace"/>
<rect x="352.75" y="258.28" width="7.75" height="6.00" fill="#cacace"/>
<rect x="361.84" y="258.28" width="7.75" height="6.00" fill="#cacace"/>
<rect x="370.93" y="258.28" width="7.75" height="6.00" fill="#cacace"/>
<rect x="380.02" y="258.28" width="7.75" height="6.00" fill="#cacace"/>
<rect x="389.11" y="258.28" width="7.75" height="6.00" fill="#aa0c36"/>
<rect x="398.20" y="258.28" width="7.75" height="6.00" fill="#cacace"/>
<rect x="407.29" y="258.28" width="7.75" height="6.00" fill="#cacace"/>
<rect x="416.38" y="258.28" width="7.75" height="6.00" fill="#cacace"/>
<rect x="425.47" y="258.28" width="7.75" height="6.00" fill="#cacace"/>
<rect x="434.56" y="258.28" width="7.75" height="6.00" fill="#cacace"/>
<rect x="443.65" y="258.28" width="7.75" height="6.00" fill="#cacace"/>
<text x="303.40" y="263.58" font-size="6.55" text-anchor="end" font-style="italic" fill="#000" stroke="#000" stroke-width="0.12">CCND3</text>
<rect x="453.10" y="258.28" width="7.05" height="6.00" fill="#63a1d9"/>
<rect x="307.30" y="265.50" width="7.75" height="6.00" fill="#cacace"/>
<rect x="316.39" y="265.50" width="7.75" height="6.00" fill="#aa0c36"/>
<rect x="325.48" y="265.50" width="7.75" height="6.00" fill="#cacace"/>
<rect x="334.57" y="265.50" width="7.75" height="6.00" fill="#cacace"/>
<rect x="343.66" y="265.50" width="7.75" height="6.00" fill="#cacace"/>
<rect x="352.75" y="265.50" width="7.75" height="6.00" fill="#cacace"/>
<rect x="361.84" y="265.50" width="7.75" height="6.00" fill="#cacace"/>
<rect x="370.93" y="265.50" width="7.75" height="6.00" fill="#cacace"/>
<rect x="380.02" y="265.50" width="7.75" height="6.00" fill="#cacace"/>
<rect x="389.11" y="265.50" width="7.75" height="6.00" fill="#cacace"/>
<rect x="398.20" y="265.50" width="7.75" height="6.00" fill="#cacace"/>
<rect x="407.29" y="265.50" width="7.75" height="6.00" fill="#cacace"/>
<rect x="416.38" y="265.50" width="7.75" height="6.00" fill="#cacace"/>
<rect x="425.47" y="265.50" width="7.75" height="6.00" fill="#cacace"/>
<rect x="434.56" y="265.50" width="7.75" height="6.00" fill="#cacace"/>
<rect x="443.65" y="265.50" width="7.75" height="6.00" fill="#cacace"/>
<text x="303.40" y="270.80" font-size="6.55" text-anchor="end" font-style="italic" fill="#000" stroke="#000" stroke-width="0.12">CARD11</text>
<rect x="453.10" y="265.50" width="7.05" height="6.00" fill="#63a1d9"/>
<rect x="307.30" y="272.72" width="7.75" height="6.00" fill="#cacace"/>
<rect x="316.39" y="272.72" width="7.75" height="6.00" fill="#cacace"/>
<rect x="325.48" y="272.72" width="7.75" height="6.00" fill="#cacace"/>
<rect x="334.57" y="272.72" width="7.75" height="6.00" fill="#cacace"/>
<rect x="343.66" y="272.72" width="7.75" height="6.00" fill="#cacace"/>
<rect x="352.75" y="272.72" width="7.75" height="6.00" fill="#cacace"/>
<rect x="361.84" y="272.72" width="7.75" height="6.00" fill="#aa0c36"/>
<rect x="370.93" y="272.72" width="7.75" height="6.00" fill="#cacace"/>
<rect x="380.02" y="272.72" width="7.75" height="6.00" fill="#cacace"/>
<rect x="389.11" y="272.72" width="7.75" height="6.00" fill="#cacace"/>
<rect x="398.20" y="272.72" width="7.75" height="6.00" fill="#cacace"/>
<rect x="407.29" y="272.72" width="7.75" height="6.00" fill="#cacace"/>
<rect x="416.38" y="272.72" width="7.75" height="6.00" fill="#cacace"/>
<rect x="425.47" y="272.72" width="7.75" height="6.00" fill="#cacace"/>
<rect x="434.56" y="272.72" width="7.75" height="6.00" fill="#cacace"/>
<rect x="443.65" y="272.72" width="7.75" height="6.00" fill="#cacace"/>
<text x="303.40" y="278.02" font-size="6.55" text-anchor="end" font-style="italic" fill="#000" stroke="#000" stroke-width="0.12">BRAF</text>
<rect x="453.10" y="272.72" width="7.05" height="6.00" fill="#63a1d9"/>
<rect x="307.30" y="279.94" width="7.75" height="6.00" fill="#cacace"/>
<rect x="316.39" y="279.94" width="7.75" height="6.00" fill="#cacace"/>
<rect x="325.48" y="279.94" width="7.75" height="6.00" fill="#cacace"/>
<rect x="334.57" y="279.94" width="7.75" height="6.00" fill="#cacace"/>
<rect x="343.66" y="279.94" width="7.75" height="6.00" fill="#cacace"/>
<rect x="352.75" y="279.94" width="7.75" height="6.00" fill="#cacace"/>
<rect x="361.84" y="279.94" width="7.75" height="6.00" fill="#cacace"/>
<rect x="370.93" y="279.94" width="7.75" height="6.00" fill="#cacace"/>
<rect x="380.02" y="279.94" width="7.75" height="6.00" fill="#cacace"/>
<rect x="389.11" y="279.94" width="7.75" height="6.00" fill="#cacace"/>
<rect x="398.20" y="279.94" width="7.75" height="6.00" fill="#aa0c36"/>
<rect x="407.29" y="279.94" width="7.75" height="6.00" fill="#cacace"/>
<rect x="416.38" y="279.94" width="7.75" height="6.00" fill="#cacace"/>
<rect x="425.47" y="279.94" width="7.75" height="6.00" fill="#cacace"/>
<rect x="434.56" y="279.94" width="7.75" height="6.00" fill="#cacace"/>
<rect x="443.65" y="279.94" width="7.75" height="6.00" fill="#cacace"/>
<text x="303.40" y="285.24" font-size="6.55" text-anchor="end" font-style="italic" fill="#000" stroke="#000" stroke-width="0.12">B2M</text>
<rect x="453.10" y="279.94" width="7.05" height="6.00" fill="#63a1d9"/>
<rect x="307.30" y="287.16" width="7.75" height="6.00" fill="#cacace"/>
<rect x="316.39" y="287.16" width="7.75" height="6.00" fill="#cacace"/>
<rect x="325.48" y="287.16" width="7.75" height="6.00" fill="#cacace"/>
<rect x="334.57" y="287.16" width="7.75" height="6.00" fill="#cacace"/>
<rect x="343.66" y="287.16" width="7.75" height="6.00" fill="#cacace"/>
<rect x="352.75" y="287.16" width="7.75" height="6.00" fill="#cacace"/>
<rect x="361.84" y="287.16" width="7.75" height="6.00" fill="#cacace"/>
<rect x="370.93" y="287.16" width="7.75" height="6.00" fill="#cacace"/>
<rect x="380.02" y="287.16" width="7.75" height="6.00" fill="#aa0c36"/>
<rect x="389.11" y="287.16" width="7.75" height="6.00" fill="#cacace"/>
<rect x="398.20" y="287.16" width="7.75" height="6.00" fill="#cacace"/>
<rect x="407.29" y="287.16" width="7.75" height="6.00" fill="#cacace"/>
<rect x="416.38" y="287.16" width="7.75" height="6.00" fill="#cacace"/>
<rect x="425.47" y="287.16" width="7.75" height="6.00" fill="#cacace"/>
<rect x="434.56" y="287.16" width="7.75" height="6.00" fill="#cacace"/>
<rect x="443.65" y="287.16" width="7.75" height="6.00" fill="#cacace"/>
<text x="303.40" y="292.46" font-size="6.55" text-anchor="end" font-style="italic" fill="#000" stroke="#000" stroke-width="0.12">ARID1A</text>
<rect x="453.10" y="287.16" width="7.05" height="6.00" fill="#63a1d9"/>
<text x="308.88" y="297.00" font-size="6.4" text-anchor="start" transform="rotate(90 308.88 297.00)" fill="#1a1a1a" stroke="#1a1a1a" stroke-width="0.08">ID41</text>
<text x="317.96" y="297.00" font-size="6.4" text-anchor="start" transform="rotate(90 317.96 297.00)" fill="#1a1a1a" stroke="#1a1a1a" stroke-width="0.08">ID37</text>
<text x="327.06" y="297.00" font-size="6.4" text-anchor="start" transform="rotate(90 327.06 297.00)" fill="#1a1a1a" stroke="#1a1a1a" stroke-width="0.08">ID49</text>
<text x="336.14" y="297.00" font-size="6.4" text-anchor="start" transform="rotate(90 336.14 297.00)" fill="#1a1a1a" stroke="#1a1a1a" stroke-width="0.08">ID32</text>
<text x="345.24" y="297.00" font-size="6.4" text-anchor="start" transform="rotate(90 345.24 297.00)" fill="#1a1a1a" stroke="#1a1a1a" stroke-width="0.08">ID38</text>
<text x="354.32" y="297.00" font-size="6.4" text-anchor="start" transform="rotate(90 354.32 297.00)" fill="#1a1a1a" stroke="#1a1a1a" stroke-width="0.08">ID34</text>
<text x="363.42" y="297.00" font-size="6.4" text-anchor="start" transform="rotate(90 363.42 297.00)" fill="#1a1a1a" stroke="#1a1a1a" stroke-width="0.08">ID43</text>
<text x="372.50" y="297.00" font-size="6.4" text-anchor="start" transform="rotate(90 372.50 297.00)" fill="#1a1a1a" stroke="#1a1a1a" stroke-width="0.08">ID42</text>
<text x="381.59" y="297.00" font-size="6.4" text-anchor="start" transform="rotate(90 381.59 297.00)" fill="#1a1a1a" stroke="#1a1a1a" stroke-width="0.08">ID52</text>
<text x="390.69" y="297.00" font-size="6.4" text-anchor="start" transform="rotate(90 390.69 297.00)" fill="#1a1a1a" stroke="#1a1a1a" stroke-width="0.08">ID39</text>
<text x="399.78" y="297.00" font-size="6.4" text-anchor="start" transform="rotate(90 399.78 297.00)" fill="#1a1a1a" stroke="#1a1a1a" stroke-width="0.08">ID48</text>
<text x="408.87" y="297.00" font-size="6.4" text-anchor="start" transform="rotate(90 408.87 297.00)" fill="#1a1a1a" stroke="#1a1a1a" stroke-width="0.08">ID51</text>
<text x="417.95" y="297.00" font-size="6.4" text-anchor="start" transform="rotate(90 417.95 297.00)" fill="#1a1a1a" stroke="#1a1a1a" stroke-width="0.08">ID31</text>
<text x="427.05" y="297.00" font-size="6.4" text-anchor="start" transform="rotate(90 427.05 297.00)" fill="#1a1a1a" stroke="#1a1a1a" stroke-width="0.08">ID47</text>
<text x="436.13" y="297.00" font-size="6.4" text-anchor="start" transform="rotate(90 436.13 297.00)" fill="#1a1a1a" stroke="#1a1a1a" stroke-width="0.08">ID35</text>
<text x="445.22" y="297.00" font-size="6.4" text-anchor="start" transform="rotate(90 445.22 297.00)" fill="#1a1a1a" stroke="#1a1a1a" stroke-width="0.08">ID36</text>
<line x1="452.80" y1="294.20" x2="511.00" y2="294.20" stroke="#222" stroke-width="1"/>
<line x1="453.20" y1="293.00" x2="453.20" y2="295.40" stroke="#222" stroke-width="0.9"/>
<line x1="481.60" y1="293.00" x2="481.60" y2="295.40" stroke="#222" stroke-width="0.9"/>
<line x1="510.50" y1="293.00" x2="510.50" y2="295.40" stroke="#222" stroke-width="0.9"/>
<text x="453.60" y="300.60" font-size="3.9" text-anchor="start" fill="#111" stroke="#111" stroke-width="0.22">0%</text>
<text x="481.60" y="300.60" font-size="3.9" text-anchor="middle" fill="#111" stroke="#111" stroke-width="0.22">25%</text>
<text x="510.50" y="300.60" font-size="3.9" text-anchor="middle" fill="#111" stroke="#111" stroke-width="0.22">50%</text>
<text x="468.60" y="310.00" font-size="5.7" text-anchor="start" fill="#1a1a1a" stroke="#1a1a1a" stroke-width="0.1">Frequency</text>
<rect x="290.80" y="324.40" width="6.20" height="8.00" fill="#2b4b8d"/>
<text x="299.80" y="331.10" font-size="6.6" text-anchor="start" fill="#1a1a1a" stroke="#1a1a1a" stroke-width="0.1">missense</text>
<rect x="333.90" y="324.40" width="6.20" height="8.00" fill="#6cad46"/>
<text x="343.00" y="331.10" font-size="6.6" text-anchor="start" fill="#1a1a1a" stroke="#1a1a1a" stroke-width="0.1">nonsense</text>
<rect x="377.10" y="324.40" width="6.20" height="8.00" fill="#b07a2e"/>
<text x="386.20" y="331.10" font-size="6.6" text-anchor="start" fill="#1a1a1a" stroke="#1a1a1a" stroke-width="0.1">indel in frame</text>
<rect x="428.70" y="324.40" width="6.20" height="8.00" fill="#c20e78"/>
<text x="437.70" y="331.10" font-size="6.6" text-anchor="start" fill="#1a1a1a" stroke="#1a1a1a" stroke-width="0.1">frameshift</text>
<rect x="472.30" y="324.40" width="6.20" height="8.00" fill="#f1c232"/>
<text x="481.20" y="331.10" font-size="6.6" text-anchor="start" fill="#1a1a1a" stroke="#1a1a1a" stroke-width="0.1">splice site</text>
<rect x="290.80" y="341.90" width="6.20" height="8.00" fill="#e89f1f"/>
<text x="299.80" y="347.80" font-size="6.6" text-anchor="start" fill="#1a1a1a" stroke="#1a1a1a" stroke-width="0.1">GC</text>
<rect x="333.90" y="341.90" width="6.20" height="8.00" fill="#4a1b6b"/>
<text x="343.00" y="347.80" font-size="6.6" text-anchor="start" fill="#1a1a1a" stroke="#1a1a1a" stroke-width="0.1">non-GC</text>
<rect x="377.10" y="341.90" width="6.20" height="8.00" fill="#aa0c36"/>
<text x="386.20" y="347.80" font-size="6.6" text-anchor="start" fill="#1a1a1a" stroke="#1a1a1a" stroke-width="0.1">Mutated sample</text>
</svg>
<div style="position:absolute;left:0;top:0;width:1px;height:375px;background:#000"></div>
<div style="position:absolute;left:1px;top:0;width:1px;height:375px;background:#8a8a8a"></div>
<div style="position:absolute;left:0;top:0;width:520px;height:1px;background:#000"></div>
<div style="position:absolute;left:0;top:1px;width:520px;height:1px;background:#8a8a8a"></div>
<div style="position:absolute;left:517px;top:0;width:1px;height:375px;background:#6a6a6a"></div>
<div style="position:absolute;left:518px;top:0;width:2px;height:375px;background:#000"></div>
<div style="position:absolute;left:0;top:372px;width:520px;height:1px;background:#c8c8c8"></div>
<div style="position:absolute;left:0;top:373px;width:520px;height:1px;background:#3a3a3a"></div>
<div style="position:absolute;left:0;top:374px;width:520px;height:1px;background:#000"></div>
</body></html>
